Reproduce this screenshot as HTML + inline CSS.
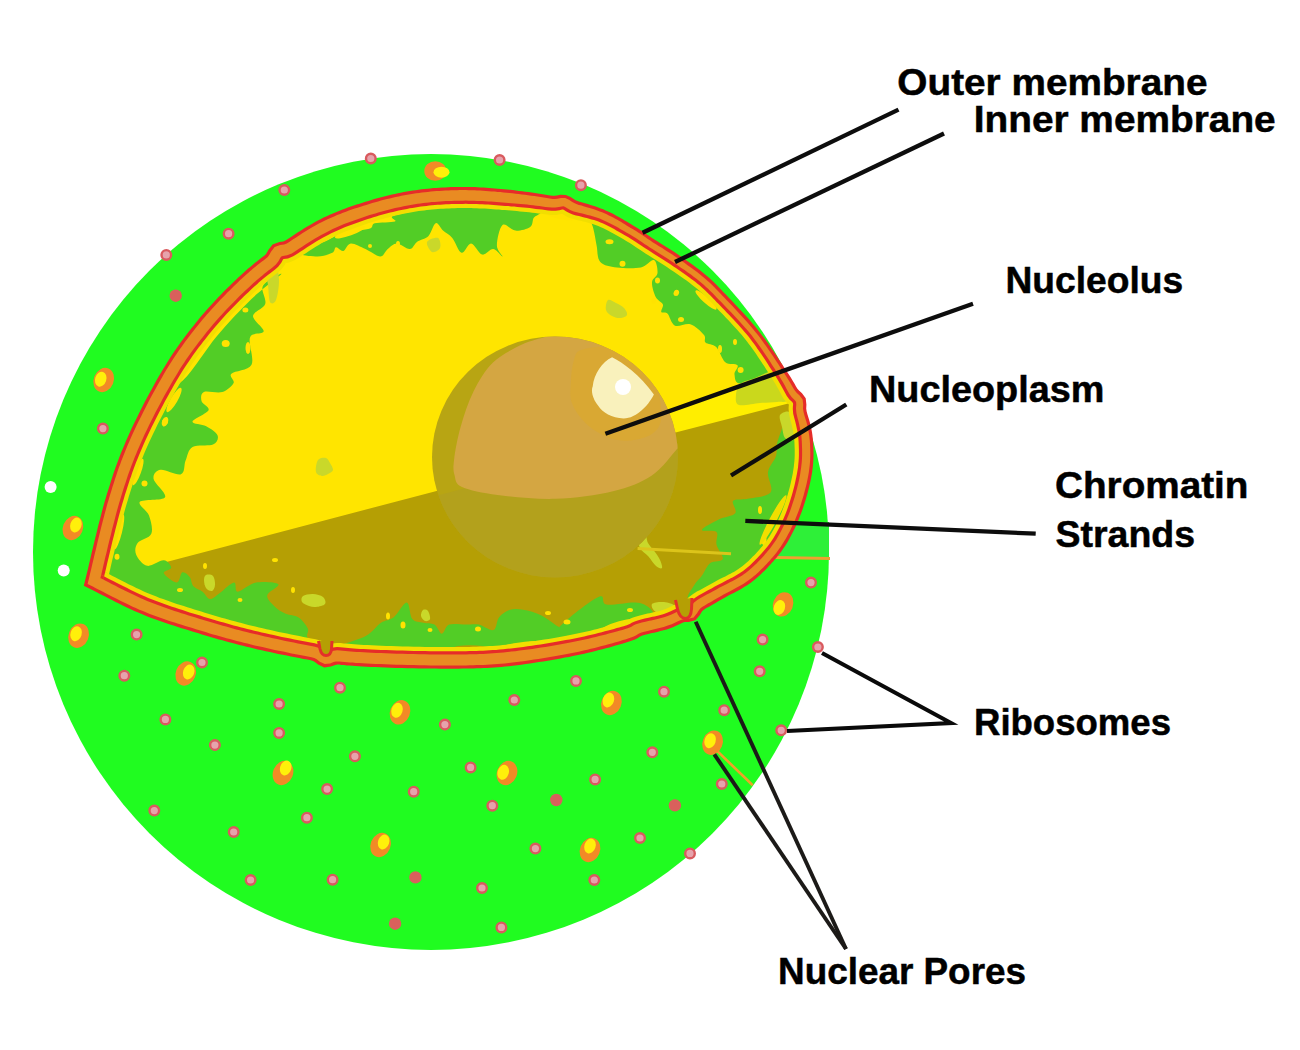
<!DOCTYPE html>
<html><head><meta charset="utf-8"><style>
html,body{margin:0;padding:0;background:#fff;}
svg{display:block;}
text{font-family:"Liberation Sans",sans-serif;font-weight:bold;font-size:37.5px;fill:#000;stroke:#000;stroke-width:0.5px;}
</style></head><body>
<svg width="1300" height="1050" viewBox="0 0 1300 1050">
<defs>
<clipPath id="below"><path d="M80,589.3 L820,395 L820,700 L80,700 Z"/></clipPath>
<clipPath id="sph"><ellipse cx="555" cy="457" rx="123" ry="120.5"/></clipPath>
<clipPath id="nuc"><path d="M94.0,581.0 94.7,578.2 95.5,574.7 96.5,570.7 97.5,566.2 98.7,561.3 99.9,556.0 101.3,550.5 102.6,544.8 104.0,539.0 105.5,533.1 106.9,527.3 108.4,521.5 109.8,516.0 111.3,510.6 112.7,505.6 114.0,501.0 115.3,496.7 116.6,492.5 117.8,488.5 119.1,484.6 120.3,480.7 121.5,477.0 122.8,473.3 124.1,469.7 125.4,466.1 126.7,462.5 128.1,458.9 129.5,455.2 131.0,451.5 132.6,447.8 134.3,443.9 136.0,440.0 137.8,435.9 139.8,431.8 141.8,427.5 143.9,423.2 146.0,418.8 148.2,414.4 150.5,410.0 152.8,405.6 155.1,401.3 157.4,396.9 159.7,392.7 162.1,388.5 164.3,384.4 166.6,380.5 168.8,376.6 171.0,373.0 173.1,369.5 175.2,366.1 177.3,362.8 179.4,359.6 181.5,356.5 183.6,353.5 185.7,350.6 187.7,347.7 189.8,344.9 191.9,342.1 193.9,339.4 196.0,336.6 198.1,334.0 200.2,331.3 202.4,328.7 204.5,326.0 206.7,323.4 208.9,320.7 211.1,318.2 213.3,315.6 215.6,313.1 217.8,310.6 220.1,308.2 222.3,305.8 224.6,303.4 226.9,301.0 229.1,298.8 231.3,296.5 233.5,294.3 235.7,292.2 237.9,290.1 240.0,288.0 242.1,286.0 244.0,284.1 246.0,282.3 247.8,280.6 249.7,278.9 251.5,277.3 253.3,275.7 255.1,274.2 257.0,272.6 258.9,271.0 260.8,269.5 262.9,267.9 265.0,266.2 267.2,264.6 269.5,262.8 271.8,260.7 273.9,258.1 275.6,254.7 277.9,251.8 281.5,250.5 285.6,249.9 289.3,248.4 292.6,246.4 295.8,244.2 299.1,242.0 302.4,239.9 305.7,237.8 308.9,235.8 312.2,233.8 315.3,231.9 318.5,230.2 321.5,228.5 324.5,226.9 327.5,225.5 330.4,224.1 333.3,222.7 336.3,221.4 339.2,220.2 342.1,219.0 345.0,217.9 347.9,216.8 350.7,215.8 353.6,214.8 356.5,213.8 359.4,212.8 362.2,211.9 365.1,210.9 368.0,210.0 370.9,209.1 373.8,208.2 376.7,207.4 379.5,206.5 382.4,205.8 385.3,205.0 388.2,204.3 391.0,203.6 393.9,202.9 396.8,202.3 399.6,201.6 402.5,201.1 405.4,200.5 408.3,200.0 411.1,199.5 414.0,199.0 416.9,198.6 419.8,198.2 422.6,197.8 425.5,197.4 428.4,197.1 431.2,196.8 434.1,196.6 437.0,196.4 439.9,196.2 442.8,196.0 445.6,195.8 448.5,195.7 451.4,195.6 454.2,195.5 457.1,195.4 460.0,195.4 462.9,195.4 465.7,195.4 468.6,195.4 471.4,195.5 474.3,195.5 477.1,195.7 480.0,195.8 482.8,195.9 485.7,196.1 488.5,196.3 491.4,196.5 494.3,196.7 497.2,196.9 500.1,197.2 503.0,197.4 506.0,197.7 509.0,198.0 512.0,198.3 515.1,198.6 518.2,198.9 521.3,199.2 524.4,199.6 527.5,199.9 530.7,200.3 533.8,200.7 536.9,201.1 540.0,201.6 543.1,202.0 546.1,202.5 549.1,202.9 552.1,203.3 555.1,203.3 558.2,202.8 561.3,202.2 564.3,202.2 567.1,203.3 569.8,205.1 572.4,206.7 575.1,207.8 577.9,208.6 580.6,209.3 583.3,210.0 586.0,210.7 588.6,211.4 591.2,212.2 593.7,213.0 596.1,213.8 598.5,214.6 600.8,215.5 603.1,216.4 605.3,217.4 607.5,218.4 609.6,219.4 611.7,220.5 613.7,221.6 615.7,222.6 617.7,223.7 619.6,224.8 621.4,225.9 623.2,227.0 625.0,228.1 628.4,230.1 631.6,231.9 634.4,233.6 636.9,235.2 639.3,236.8 641.5,238.3 643.8,239.8 646.1,241.4 648.6,243.1 651.4,244.9 654.4,246.8 657.4,248.7 660.6,250.7 663.8,252.7 667.0,254.8 670.2,256.8 673.4,258.9 676.6,261.1 679.8,263.3 683.0,265.5 686.3,267.7 689.5,270.0 692.6,272.3 695.7,274.6 698.6,276.9 701.3,279.1 703.7,281.1 705.9,283.0 707.9,284.9 710.0,286.8 712.2,289.0 714.6,291.4 717.4,294.4 719.0,296.0 720.7,297.8 722.6,299.7 724.5,301.7 726.6,303.9 728.8,306.1 731.0,308.4 733.2,310.8 735.5,313.2 737.8,315.7 740.1,318.1 742.4,320.7 744.6,323.2 746.8,325.7 749.0,328.1 751.0,330.6 753.0,333.0 754.9,335.4 756.8,337.9 758.7,340.4 760.5,342.9 762.4,345.5 764.2,348.1 766.0,350.7 767.8,353.2 769.5,355.8 771.1,358.3 772.8,360.8 774.3,363.2 775.8,365.5 777.3,367.8 778.7,369.9 780.0,372.0 781.2,373.9 782.4,375.8 783.5,377.5 785.5,380.8 787.3,383.8 788.9,386.7 790.5,389.5 792.1,392.3 794.2,395.0 797.1,397.6 799.3,400.8 799.8,404.6 799.6,406.7 799.5,408.7 799.9,412.4 800.8,415.9 801.8,419.3 802.6,422.5 803.4,425.5 804.0,428.3 804.5,430.9 804.9,433.4 805.3,435.9 805.6,438.3 805.8,440.9 805.9,443.6 806.1,446.4 806.1,449.4 806.2,452.3 806.2,455.4 806.1,458.5 805.9,461.7 805.6,464.9 805.2,468.3 804.7,471.7 804.1,475.3 803.4,479.1 802.6,482.9 801.7,486.7 800.7,490.6 799.6,494.4 798.6,498.2 797.4,501.8 796.2,505.4 795.0,509.0 793.7,512.6 792.3,516.1 790.9,519.6 789.4,523.0 787.8,526.4 786.2,529.6 784.6,532.7 782.9,535.8 781.2,538.8 779.4,541.7 777.5,544.6 775.4,547.6 773.2,550.5 770.8,553.5 769.5,555.1 768.1,556.6 766.7,558.2 765.3,559.8 763.8,561.4 762.3,562.9 760.8,564.5 759.3,566.1 757.7,567.6 756.1,569.1 754.5,570.6 752.9,572.0 751.3,573.4 749.6,574.7 748.0,576.0 746.4,577.2 744.7,578.4 743.0,579.5 741.2,580.6 739.4,581.7 737.7,582.7 735.9,583.7 734.1,584.6 732.3,585.6 730.5,586.5 728.7,587.4 725.1,589.2 721.7,591.1 718.4,592.9 715.1,594.7 712.0,596.5 708.9,598.3 705.8,600.0 702.7,601.7 699.7,603.5 696.9,605.7 694.6,608.9 693.6,610.7 691.2,613.5 687.6,614.4 685.5,614.4 683.5,614.5 679.9,615.5 676.6,617.0 673.4,618.5 670.0,620.0 666.4,621.3 664.5,621.9 662.5,622.5 660.5,623.0 658.4,623.5 656.4,624.0 654.3,624.5 652.3,625.0 650.3,625.4 646.5,626.3 643.0,627.1 640.0,628.0 637.7,628.8 635.7,629.8 633.8,631.0 631.7,632.1 629.4,632.9 626.0,634.0 623.9,634.6 621.5,635.3 619.0,636.0 616.2,636.8 613.3,637.6 610.3,638.5 607.1,639.3 603.8,640.2 600.4,641.1 596.9,642.0 593.4,642.9 589.7,643.8 586.1,644.6 582.4,645.4 578.7,646.2 575.0,647.0 571.2,647.7 567.3,648.5 563.3,649.2 559.2,650.0 554.9,650.7 550.7,651.5 546.3,652.2 541.9,652.9 537.6,653.6 533.2,654.3 528.8,654.9 524.5,655.5 520.2,656.1 516.1,656.6 512.0,657.1 508.0,657.5 504.2,657.9 500.5,658.2 496.9,658.5 493.5,658.8 490.0,659.0 486.7,659.2 483.3,659.4 480.0,659.5 476.6,659.6 473.2,659.7 469.7,659.8 466.0,659.9 462.3,659.9 458.4,660.0 454.3,660.0 450.0,660.0 445.4,660.0 440.6,660.0 435.5,659.9 430.2,659.9 424.7,659.8 419.1,659.7 413.5,659.6 407.8,659.5 402.2,659.3 396.6,659.2 391.1,659.0 385.8,658.8 380.7,658.6 375.8,658.4 371.2,658.2 367.0,658.0 363.1,657.8 359.5,657.6 356.2,657.4 353.1,657.1 350.2,656.9 347.5,656.7 344.9,656.5 342.3,656.2 339.8,656.0 337.3,655.9 334.6,656.1 331.8,656.9 328.8,658.1 325.7,658.5 322.8,657.1 319.7,654.6 316.4,652.8 312.7,651.8 308.9,651.1 305.0,650.4 301.0,649.6 296.8,648.8 292.7,648.0 288.5,647.1 284.3,646.3 280.1,645.4 275.9,644.5 271.8,643.6 267.7,642.7 263.7,641.8 259.8,640.9 256.0,640.0 252.3,639.1 248.7,638.2 245.1,637.4 241.6,636.5 238.2,635.6 234.8,634.7 231.4,633.8 228.0,632.9 224.6,631.9 221.3,631.0 218.0,630.1 214.6,629.1 211.2,628.1 207.9,627.1 204.4,626.1 201.0,625.0 197.5,623.9 194.0,622.9 190.5,621.8 187.0,620.7 183.4,619.6 179.9,618.4 176.3,617.3 172.8,616.1 169.2,614.9 165.7,613.7 162.2,612.5 158.7,611.3 155.2,610.0 151.8,608.7 148.4,607.4 145.0,606.0 141.6,604.6 138.0,603.0 134.4,601.3 130.7,599.6 127.0,597.8 123.3,596.0 119.6,594.1 116.0,592.3 112.5,590.5 109.2,588.8 106.0,587.2 103.0,585.6 100.3,584.2 97.9,583.0 95.8,581.9 94.0,581.0 Z"/></clipPath>
</defs>
<circle cx="431" cy="552" r="398" fill="#20fc20"/>
<path d="M760,522 L829,522 L829,557 L760,557 Z" fill="#2ef038"/>
<line x1="745" y1="557" x2="830" y2="558.5" stroke="#f0a030" stroke-width="3"/>
<path d="M94.0,581.0 94.7,578.2 95.5,574.7 96.5,570.7 97.5,566.2 98.7,561.3 99.9,556.0 101.3,550.5 102.6,544.8 104.0,539.0 105.5,533.1 106.9,527.3 108.4,521.5 109.8,516.0 111.3,510.6 112.7,505.6 114.0,501.0 115.3,496.7 116.6,492.5 117.8,488.5 119.1,484.6 120.3,480.7 121.5,477.0 122.8,473.3 124.1,469.7 125.4,466.1 126.7,462.5 128.1,458.9 129.5,455.2 131.0,451.5 132.6,447.8 134.3,443.9 136.0,440.0 137.8,435.9 139.8,431.8 141.8,427.5 143.9,423.2 146.0,418.8 148.2,414.4 150.5,410.0 152.8,405.6 155.1,401.3 157.4,396.9 159.7,392.7 162.1,388.5 164.3,384.4 166.6,380.5 168.8,376.6 171.0,373.0 173.1,369.5 175.2,366.1 177.3,362.8 179.4,359.6 181.5,356.5 183.6,353.5 185.7,350.6 187.7,347.7 189.8,344.9 191.9,342.1 193.9,339.4 196.0,336.6 198.1,334.0 200.2,331.3 202.4,328.7 204.5,326.0 206.7,323.4 208.9,320.7 211.1,318.2 213.3,315.6 215.6,313.1 217.8,310.6 220.1,308.2 222.3,305.8 224.6,303.4 226.9,301.0 229.1,298.8 231.3,296.5 233.5,294.3 235.7,292.2 237.9,290.1 240.0,288.0 242.1,286.0 244.0,284.1 246.0,282.3 247.8,280.6 249.7,278.9 251.5,277.3 253.3,275.7 255.1,274.2 257.0,272.6 258.9,271.0 260.8,269.5 262.9,267.9 265.0,266.2 267.2,264.6 269.5,262.8 271.8,260.7 273.9,258.1 275.6,254.7 277.9,251.8 281.5,250.5 285.6,249.9 289.3,248.4 292.6,246.4 295.8,244.2 299.1,242.0 302.4,239.9 305.7,237.8 308.9,235.8 312.2,233.8 315.3,231.9 318.5,230.2 321.5,228.5 324.5,226.9 327.5,225.5 330.4,224.1 333.3,222.7 336.3,221.4 339.2,220.2 342.1,219.0 345.0,217.9 347.9,216.8 350.7,215.8 353.6,214.8 356.5,213.8 359.4,212.8 362.2,211.9 365.1,210.9 368.0,210.0 370.9,209.1 373.8,208.2 376.7,207.4 379.5,206.5 382.4,205.8 385.3,205.0 388.2,204.3 391.0,203.6 393.9,202.9 396.8,202.3 399.6,201.6 402.5,201.1 405.4,200.5 408.3,200.0 411.1,199.5 414.0,199.0 416.9,198.6 419.8,198.2 422.6,197.8 425.5,197.4 428.4,197.1 431.2,196.8 434.1,196.6 437.0,196.4 439.9,196.2 442.8,196.0 445.6,195.8 448.5,195.7 451.4,195.6 454.2,195.5 457.1,195.4 460.0,195.4 462.9,195.4 465.7,195.4 468.6,195.4 471.4,195.5 474.3,195.5 477.1,195.7 480.0,195.8 482.8,195.9 485.7,196.1 488.5,196.3 491.4,196.5 494.3,196.7 497.2,196.9 500.1,197.2 503.0,197.4 506.0,197.7 509.0,198.0 512.0,198.3 515.1,198.6 518.2,198.9 521.3,199.2 524.4,199.6 527.5,199.9 530.7,200.3 533.8,200.7 536.9,201.1 540.0,201.6 543.1,202.0 546.1,202.5 549.1,202.9 552.1,203.3 555.1,203.3 558.2,202.8 561.3,202.2 564.3,202.2 567.1,203.3 569.8,205.1 572.4,206.7 575.1,207.8 577.9,208.6 580.6,209.3 583.3,210.0 586.0,210.7 588.6,211.4 591.2,212.2 593.7,213.0 596.1,213.8 598.5,214.6 600.8,215.5 603.1,216.4 605.3,217.4 607.5,218.4 609.6,219.4 611.7,220.5 613.7,221.6 615.7,222.6 617.7,223.7 619.6,224.8 621.4,225.9 623.2,227.0 625.0,228.1 628.4,230.1 631.6,231.9 634.4,233.6 636.9,235.2 639.3,236.8 641.5,238.3 643.8,239.8 646.1,241.4 648.6,243.1 651.4,244.9 654.4,246.8 657.4,248.7 660.6,250.7 663.8,252.7 667.0,254.8 670.2,256.8 673.4,258.9 676.6,261.1 679.8,263.3 683.0,265.5 686.3,267.7 689.5,270.0 692.6,272.3 695.7,274.6 698.6,276.9 701.3,279.1 703.7,281.1 705.9,283.0 707.9,284.9 710.0,286.8 712.2,289.0 714.6,291.4 717.4,294.4 719.0,296.0 720.7,297.8 722.6,299.7 724.5,301.7 726.6,303.9 728.8,306.1 731.0,308.4 733.2,310.8 735.5,313.2 737.8,315.7 740.1,318.1 742.4,320.7 744.6,323.2 746.8,325.7 749.0,328.1 751.0,330.6 753.0,333.0 754.9,335.4 756.8,337.9 758.7,340.4 760.5,342.9 762.4,345.5 764.2,348.1 766.0,350.7 767.8,353.2 769.5,355.8 771.1,358.3 772.8,360.8 774.3,363.2 775.8,365.5 777.3,367.8 778.7,369.9 780.0,372.0 781.2,373.9 782.4,375.8 783.5,377.5 785.5,380.8 787.3,383.8 788.9,386.7 790.5,389.5 792.1,392.3 794.2,395.0 797.1,397.6 799.3,400.8 799.8,404.6 799.6,406.7 799.5,408.7 799.9,412.4 800.8,415.9 801.8,419.3 802.6,422.5 803.4,425.5 804.0,428.3 804.5,430.9 804.9,433.4 805.3,435.9 805.6,438.3 805.8,440.9 805.9,443.6 806.1,446.4 806.1,449.4 806.2,452.3 806.2,455.4 806.1,458.5 805.9,461.7 805.6,464.9 805.2,468.3 804.7,471.7 804.1,475.3 803.4,479.1 802.6,482.9 801.7,486.7 800.7,490.6 799.6,494.4 798.6,498.2 797.4,501.8 796.2,505.4 795.0,509.0 793.7,512.6 792.3,516.1 790.9,519.6 789.4,523.0 787.8,526.4 786.2,529.6 784.6,532.7 782.9,535.8 781.2,538.8 779.4,541.7 777.5,544.6 775.4,547.6 773.2,550.5 770.8,553.5 769.5,555.1 768.1,556.6 766.7,558.2 765.3,559.8 763.8,561.4 762.3,562.9 760.8,564.5 759.3,566.1 757.7,567.6 756.1,569.1 754.5,570.6 752.9,572.0 751.3,573.4 749.6,574.7 748.0,576.0 746.4,577.2 744.7,578.4 743.0,579.5 741.2,580.6 739.4,581.7 737.7,582.7 735.9,583.7 734.1,584.6 732.3,585.6 730.5,586.5 728.7,587.4 725.1,589.2 721.7,591.1 718.4,592.9 715.1,594.7 712.0,596.5 708.9,598.3 705.8,600.0 702.7,601.7 699.7,603.5 696.9,605.7 694.6,608.9 693.6,610.7 691.2,613.5 687.6,614.4 685.5,614.4 683.5,614.5 679.9,615.5 676.6,617.0 673.4,618.5 670.0,620.0 666.4,621.3 664.5,621.9 662.5,622.5 660.5,623.0 658.4,623.5 656.4,624.0 654.3,624.5 652.3,625.0 650.3,625.4 646.5,626.3 643.0,627.1 640.0,628.0 637.7,628.8 635.7,629.8 633.8,631.0 631.7,632.1 629.4,632.9 626.0,634.0 623.9,634.6 621.5,635.3 619.0,636.0 616.2,636.8 613.3,637.6 610.3,638.5 607.1,639.3 603.8,640.2 600.4,641.1 596.9,642.0 593.4,642.9 589.7,643.8 586.1,644.6 582.4,645.4 578.7,646.2 575.0,647.0 571.2,647.7 567.3,648.5 563.3,649.2 559.2,650.0 554.9,650.7 550.7,651.5 546.3,652.2 541.9,652.9 537.6,653.6 533.2,654.3 528.8,654.9 524.5,655.5 520.2,656.1 516.1,656.6 512.0,657.1 508.0,657.5 504.2,657.9 500.5,658.2 496.9,658.5 493.5,658.8 490.0,659.0 486.7,659.2 483.3,659.4 480.0,659.5 476.6,659.6 473.2,659.7 469.7,659.8 466.0,659.9 462.3,659.9 458.4,660.0 454.3,660.0 450.0,660.0 445.4,660.0 440.6,660.0 435.5,659.9 430.2,659.9 424.7,659.8 419.1,659.7 413.5,659.6 407.8,659.5 402.2,659.3 396.6,659.2 391.1,659.0 385.8,658.8 380.7,658.6 375.8,658.4 371.2,658.2 367.0,658.0 363.1,657.8 359.5,657.6 356.2,657.4 353.1,657.1 350.2,656.9 347.5,656.7 344.9,656.5 342.3,656.2 339.8,656.0 337.3,655.9 334.6,656.1 331.8,656.9 328.8,658.1 325.7,658.5 322.8,657.1 319.7,654.6 316.4,652.8 312.7,651.8 308.9,651.1 305.0,650.4 301.0,649.6 296.8,648.8 292.7,648.0 288.5,647.1 284.3,646.3 280.1,645.4 275.9,644.5 271.8,643.6 267.7,642.7 263.7,641.8 259.8,640.9 256.0,640.0 252.3,639.1 248.7,638.2 245.1,637.4 241.6,636.5 238.2,635.6 234.8,634.7 231.4,633.8 228.0,632.9 224.6,631.9 221.3,631.0 218.0,630.1 214.6,629.1 211.2,628.1 207.9,627.1 204.4,626.1 201.0,625.0 197.5,623.9 194.0,622.9 190.5,621.8 187.0,620.7 183.4,619.6 179.9,618.4 176.3,617.3 172.8,616.1 169.2,614.9 165.7,613.7 162.2,612.5 158.7,611.3 155.2,610.0 151.8,608.7 148.4,607.4 145.0,606.0 141.6,604.6 138.0,603.0 134.4,601.3 130.7,599.6 127.0,597.8 123.3,596.0 119.6,594.1 116.0,592.3 112.5,590.5 109.2,588.8 106.0,587.2 103.0,585.6 100.3,584.2 97.9,583.0 95.8,581.9 94.0,581.0 Z" fill="#ffe500"/>
<g clip-path="url(#nuc)">
<path d="M794.0,397.0 C795.5,401.5 801.0,416.0 803.0,424.0 C805.0,432.0 805.7,437.3 806.0,445.0 C806.3,452.7 806.3,460.8 805.0,470.0 C803.7,479.2 801.0,490.3 798.0,500.0 C795.0,509.7 791.3,519.3 787.0,528.0 C782.7,536.7 778.5,544.0 772.0,552.0 C765.5,560.0 756.7,569.3 748.0,576.0 C739.3,582.7 728.8,587.0 720.0,592.0 C711.2,597.0 703.3,601.3 695.0,606.0 C686.7,610.7 679.2,616.3 670.0,620.0 C660.8,623.7 647.3,625.7 640.0,628.0 C632.7,630.3 636.8,630.8 626.0,634.0 C615.2,637.2 594.7,643.1 575.0,647.0 C555.3,650.9 528.8,655.3 508.0,657.5 C487.2,659.7 473.5,659.9 450.0,660.0 C426.5,660.1 388.7,659.2 367.0,658.0 C345.3,656.8 338.5,656.0 320.0,653.0 C301.5,650.0 275.8,644.7 256.0,640.0 C236.2,635.3 219.5,630.7 201.0,625.0 C182.5,619.3 162.8,613.3 145.0,606.0 C127.2,598.7 102.5,585.2 94.0,581.0 Z" fill="#b59f04"/>
<path d="M660,414.5 L795,366.8 L795,401.7 L660,436.4 Z" fill="#ffee00"/>
<path d="M263.0,285.7 C260.3,290.7 266.9,298.9 265.2,304.0 C263.5,309.1 253.2,311.4 253.0,316.0 C252.8,320.6 264.2,327.7 263.7,331.3 C263.2,334.9 252.0,331.8 250.0,337.4 C248.0,343.0 254.6,358.8 251.5,364.8 C248.4,370.9 234.4,370.7 231.4,373.7 C228.4,376.7 235.1,379.8 233.6,382.9 C232.1,385.9 227.1,390.5 222.2,392.0 C217.2,393.5 207.3,390.5 203.9,392.0 C200.5,393.5 200.8,398.1 201.6,401.2 C202.4,404.2 210.0,406.9 208.5,410.3 C207.0,413.7 192.9,419.0 192.5,421.7 C192.1,424.4 202.0,424.0 206.2,426.3 C210.4,428.6 216.5,432.4 217.6,435.5 C218.7,438.6 217.2,442.7 213.0,444.6 C208.8,446.5 197.1,444.2 192.5,446.9 C187.9,449.6 187.5,456.0 185.6,460.6 C183.7,465.2 185.2,472.8 181.0,474.3 C176.8,475.8 165.1,469.0 160.5,469.8 C155.9,470.6 152.8,474.3 153.6,478.9 C154.3,483.5 167.3,493.4 165.0,497.2 C162.7,501.0 142.6,498.8 139.9,501.8 C137.2,504.9 147.1,510.2 149.0,515.5 C150.9,520.8 153.2,529.2 151.3,533.8 C149.4,538.4 140.1,539.5 137.6,543.0 C135.1,546.5 134.6,551.0 136.2,554.8 C137.8,558.6 142.6,564.9 147.2,565.8 C151.8,566.7 159.8,560.0 163.8,560.3 C167.8,560.6 171.2,565.6 171.2,567.7 C171.2,569.9 162.9,570.7 163.8,573.2 C164.7,575.7 173.7,582.6 176.8,582.5 C179.9,582.4 180.2,573.2 182.3,572.3 C184.5,571.4 187.8,574.6 189.7,576.9 C191.5,579.2 191.2,583.7 193.4,586.2 C195.6,588.7 199.8,589.6 202.6,591.7 C205.4,593.9 207.2,598.8 210.0,599.1 C212.8,599.4 215.2,596.3 219.2,593.5 C223.2,590.7 230.9,582.8 234.0,582.5 C237.1,582.2 234.0,591.7 237.7,591.7 C241.4,591.7 249.3,583.7 256.1,582.5 C262.9,581.3 276.5,582.1 278.3,584.3 C280.1,586.4 267.8,591.7 267.2,595.4 C266.6,599.1 271.5,603.4 274.6,606.5 C277.7,609.6 281.7,612.0 285.7,613.8 C289.7,615.6 294.9,615.0 298.6,617.5 C302.3,620.0 306.3,625.2 307.8,628.6 C309.3,632.0 305.4,635.1 307.8,637.8 C310.2,640.5 319.1,640.5 322.0,645.0 C324.9,649.5 336.0,664.2 325.0,665.0 C314.0,665.8 276.7,655.0 256.0,650.0 C235.3,645.0 219.5,640.7 201.0,635.0 C182.5,629.3 164.5,623.5 145.0,616.0 C125.5,608.5 90.8,609.5 84.0,590.0 C77.2,570.5 97.0,524.7 104.0,499.0 C111.0,473.3 118.3,452.5 126.0,436.0 C133.7,419.5 140.5,409.2 150.0,400.0 C159.5,390.8 171.6,391.3 182.8,380.6 C194.0,369.9 205.6,349.5 217.0,336.0 C228.4,322.5 240.3,309.8 251.0,299.5 C261.7,289.2 279.4,276.3 281.4,274.0 C283.4,271.7 265.7,280.7 263.0,285.7 Z" fill="#52cd26"/>
<path d="M300.9,252.8 C299.0,255.6 312.3,256.5 317.5,256.5 C322.7,256.5 329.2,254.4 332.3,252.8 C335.4,251.2 334.1,247.5 336.0,247.2 C337.9,246.9 340.9,251.5 343.4,250.9 C345.9,250.3 347.1,243.8 350.8,243.5 C354.5,243.2 360.6,246.9 365.5,249.1 C370.4,251.3 376.6,256.5 380.3,256.5 C384.0,256.5 384.9,251.3 387.7,249.1 C390.5,246.9 393.2,243.5 396.9,243.5 C400.6,243.5 406.4,249.4 409.8,249.1 C413.2,248.8 414.1,243.8 417.2,241.7 C420.3,239.5 425.2,239.3 428.3,236.2 C431.4,233.1 433.2,224.1 435.7,223.2 C438.1,222.3 440.2,228.1 443.0,230.6 C445.8,233.1 449.2,234.3 452.3,238.0 C455.4,241.7 458.4,251.9 461.5,252.8 C464.6,253.7 467.7,243.2 471.1,243.5 C474.6,243.8 478.5,253.7 482.2,254.6 C485.9,255.5 489.8,248.8 493.2,249.1 C496.6,249.4 501.9,257.1 502.5,256.5 C503.1,255.9 496.9,250.6 496.9,245.4 C496.9,240.2 499.4,227.6 502.5,225.1 C505.6,222.6 510.8,230.3 515.4,230.6 C520.0,230.9 527.1,229.1 530.2,226.9 C533.3,224.8 532.0,220.1 533.8,217.7 C535.6,215.2 539.3,215.1 541.2,212.2 C543.1,209.2 551.9,202.9 545.0,200.0 C538.1,197.1 514.2,195.8 500.0,195.0 C485.8,194.2 472.6,192.8 460.0,195.0 C447.4,197.2 435.7,205.0 424.6,208.5 C413.5,212.0 398.1,213.7 393.2,215.8 C388.3,218.0 398.1,220.2 395.0,221.4 C391.9,222.6 379.1,222.0 374.8,223.2 C370.5,224.4 374.4,227.2 369.2,228.8 C364.0,230.4 350.2,230.7 343.4,232.5 C336.6,234.3 335.7,236.4 328.6,239.8 C321.5,243.2 302.8,250.0 300.9,252.8 Z" fill="#52cd26"/>
<path d="M592.9,226.9 C594.8,233.6 595.4,239.6 596.6,245.4 C597.8,251.2 596.9,258.3 600.3,262.0 C603.7,265.7 610.1,266.6 616.9,267.5 C623.7,268.4 634.8,268.7 640.9,267.5 C647.0,266.3 651.0,259.2 653.8,260.1 C656.6,261.0 657.8,269.4 657.5,273.1 C657.2,276.8 652.3,278.3 652.0,282.3 C651.7,286.3 653.9,293.3 655.7,297.0 C657.5,300.7 662.0,301.9 662.9,304.4 C663.8,306.9 660.5,310.5 661.3,312.0 C662.0,313.5 665.1,311.2 667.4,313.5 C669.7,315.8 671.2,323.9 675.0,325.7 C678.8,327.5 685.5,322.7 690.3,324.2 C695.1,325.7 701.5,331.8 704.0,334.9 C706.5,337.9 703.5,340.5 705.5,342.5 C707.5,344.5 712.9,343.7 716.2,347.0 C719.5,350.3 721.8,359.2 725.3,362.3 C728.8,365.4 736.0,363.3 737.5,365.3 C739.0,367.3 734.0,371.4 734.5,374.5 C735.0,377.6 734.7,384.0 740.6,383.6 C746.5,383.2 761.8,375.1 770.0,372.0 C778.2,368.9 791.3,372.7 790.0,365.0 C788.7,357.3 772.5,338.7 762.0,326.0 C751.5,313.3 736.7,298.3 727.0,289.0 C717.3,279.7 712.2,276.2 704.0,270.0 C695.8,263.8 686.3,257.7 678.0,252.0 C669.7,246.3 661.7,241.0 654.0,236.0 C646.3,231.0 641.0,227.0 632.0,222.0 C623.0,217.0 607.8,208.8 600.0,206.0 C592.2,203.2 586.2,201.5 585.0,205.0 C583.8,208.5 591.0,220.2 592.9,226.9 Z" fill="#52cd26"/>
<path d="M740.6,383.6 C737.4,386.4 736.3,391.4 736.0,395.0 C735.7,398.6 735.0,403.7 739.0,405.0 C743.0,406.3 753.7,403.5 760.0,403.0 C766.3,402.5 772.0,402.5 777.0,402.0 C782.0,401.5 787.5,402.8 790.0,400.0 C792.5,397.2 793.7,390.3 792.0,385.0 C790.3,379.7 783.8,370.3 780.0,368.0 C776.2,365.7 773.7,369.7 769.5,371.4 C765.3,373.1 759.8,376.0 755.0,378.0 C750.2,380.0 743.8,380.8 740.6,383.6 Z" fill="#cad81c"/>
<path d="M792.0,412.0 C786.2,415.3 780.7,432.7 778.0,440.0 C775.3,447.3 777.7,450.7 776.0,456.0 C774.3,461.3 768.9,465.9 768.0,472.0 C767.1,478.1 773.9,488.1 770.5,492.5 C767.1,496.9 753.9,497.3 747.7,498.7 C741.5,500.1 735.2,498.4 733.1,500.8 C731.0,503.2 737.6,510.1 735.2,513.2 C732.8,516.3 724.1,516.7 718.6,519.5 C713.1,522.3 702.4,527.7 702.0,529.8 C701.6,531.9 714.1,529.5 716.5,531.9 C718.9,534.3 715.5,539.9 716.5,544.4 C717.5,548.9 723.8,555.8 722.8,558.9 C721.8,562.0 713.8,560.3 710.3,563.1 C706.8,565.9 704.8,571.7 702.0,575.5 C699.2,579.3 696.0,581.8 693.7,585.9 C691.4,590.0 686.1,595.6 688.0,600.0 C689.9,604.4 698.8,612.0 705.0,612.0 C711.2,612.0 716.7,604.7 725.0,600.0 C733.3,595.3 745.8,591.0 755.0,584.0 C764.2,577.0 773.0,566.7 780.0,558.0 C787.0,549.3 792.2,541.3 797.0,532.0 C801.8,522.7 806.0,512.3 809.0,502.0 C812.0,491.7 813.8,479.5 815.0,470.0 C816.2,460.5 816.3,453.3 816.0,445.0 C815.7,436.7 817.0,425.5 813.0,420.0 C809.0,414.5 797.8,408.7 792.0,412.0 Z" fill="#52cd26"/>
<path d="M330.0,648.0 C330.9,644.8 334.3,646.9 340.3,644.9 C346.3,642.9 359.4,639.4 366.2,635.7 C373.0,632.0 376.4,625.9 381.0,622.8 C385.6,619.7 389.5,620.6 393.8,617.2 C398.1,613.8 403.7,602.2 406.8,602.5 C409.9,602.8 409.5,615.7 412.3,619.1 C415.1,622.5 419.7,621.9 423.4,622.8 C427.1,623.7 431.4,622.8 434.5,624.6 C437.6,626.4 439.4,633.8 441.8,633.8 C444.2,633.8 445.2,626.1 449.2,624.6 C453.2,623.1 460.9,624.6 465.8,624.6 C470.7,624.6 474.2,623.7 478.8,624.6 C483.4,625.5 490.1,631.3 493.5,630.1 C496.9,628.9 496.3,620.6 499.1,617.2 C501.9,613.8 506.1,611.0 510.1,609.8 C514.1,608.6 517.9,608.9 523.1,609.8 C528.3,610.7 535.7,612.6 541.5,615.4 C547.3,618.2 554.9,624.8 558.1,626.5 C561.3,628.2 557.9,627.7 560.8,625.4 C563.7,623.1 568.7,617.8 575.3,612.9 C581.9,608.0 595.0,597.7 600.2,596.3 C605.4,594.9 600.6,603.6 606.5,604.6 C612.4,605.6 628.6,602.1 635.5,602.5 C642.4,602.9 644.5,604.6 648.0,606.7 C651.5,608.8 653.0,613.1 656.3,615.0 C659.6,616.9 665.4,615.5 668.0,618.0 C670.6,620.5 676.7,626.7 672.0,630.0 C667.3,633.3 656.2,633.5 640.0,638.0 C623.8,642.5 597.0,652.2 575.0,657.0 C553.0,661.8 528.8,664.8 508.0,667.0 C487.2,669.2 473.5,670.0 450.0,670.0 C426.5,670.0 386.2,668.0 367.0,667.0 C347.8,666.0 341.2,667.2 335.0,664.0 C328.8,660.8 329.1,651.2 330.0,648.0 Z" fill="#52cd26"/>
<ellipse cx="245.4" cy="310.0" rx="3.0" ry="2.5" fill="#ffe200"/>
<ellipse cx="225.7" cy="343.5" rx="4.0" ry="3.5" fill="#ffe200"/>
<ellipse cx="248.0" cy="348.0" rx="2.5" ry="6.0" fill="#ffe200"/>
<ellipse cx="165.0" cy="421.7" rx="3.0" ry="2.5" fill="#ffe200"/>
<ellipse cx="144.5" cy="483.5" rx="3.0" ry="3.0" fill="#ffe200"/>
<ellipse cx="117.0" cy="556.7" rx="2.5" ry="3.0" fill="#ffe200"/>
<ellipse cx="676.6" cy="292.2" rx="2.5" ry="2.5" fill="#ffe200"/>
<ellipse cx="681.0" cy="319.6" rx="3.0" ry="2.5" fill="#ffe200"/>
<ellipse cx="740.6" cy="370.0" rx="3.0" ry="3.0" fill="#ffe200"/>
<ellipse cx="609.5" cy="241.7" rx="4.0" ry="2.5" fill="#ffe200"/>
<ellipse cx="622.5" cy="263.8" rx="3.0" ry="3.0" fill="#ffe200"/>
<ellipse cx="657.5" cy="280.5" rx="2.5" ry="3.0" fill="#ffe200"/>
<ellipse cx="676.0" cy="293.4" rx="2.5" ry="2.5" fill="#ffe200"/>
<ellipse cx="653.8" cy="300.8" rx="2.5" ry="3.0" fill="#ffe200"/>
<ellipse cx="240.0" cy="600.0" rx="2.5" ry="2.0" fill="#ffe200"/>
<ellipse cx="275.0" cy="560.0" rx="3.0" ry="2.0" fill="#ffe200"/>
<ellipse cx="388.0" cy="616.0" rx="2.0" ry="3.5" fill="#ffe200"/>
<ellipse cx="403.0" cy="625.0" rx="2.5" ry="3.5" fill="#ffe200"/>
<ellipse cx="430.0" cy="630.0" rx="2.5" ry="2.0" fill="#ffe200"/>
<ellipse cx="478.0" cy="629.0" rx="3.0" ry="2.5" fill="#ffe200"/>
<ellipse cx="548.0" cy="613.0" rx="3.0" ry="2.0" fill="#ffe200"/>
<ellipse cx="567.0" cy="622.0" rx="3.5" ry="2.5" fill="#ffe200"/>
<ellipse cx="630.0" cy="610.0" rx="3.0" ry="2.0" fill="#ffe200"/>
<ellipse cx="344.0" cy="659.0" rx="2.5" ry="2.5" fill="#ffe200"/>
<ellipse cx="205.0" cy="566.0" rx="2.0" ry="3.0" fill="#ffe200"/>
<ellipse cx="370.0" cy="246.0" rx="2.0" ry="2.0" fill="#ffe200"/>
<ellipse cx="398.0" cy="244.0" rx="2.0" ry="3.0" fill="#ffe200"/>
<ellipse cx="760.0" cy="510.0" rx="2.0" ry="4.0" fill="#ffe200"/>
<ellipse cx="764.0" cy="540.0" rx="2.5" ry="5.0" fill="#ffe200"/>
<ellipse cx="720.0" cy="349.0" rx="2.0" ry="4.0" fill="#ffe200"/>
<ellipse cx="735.0" cy="342.0" rx="2.0" ry="3.0" fill="#ffe200"/>
<ellipse cx="180.0" cy="590.0" rx="3.0" ry="2.0" fill="#ffe200"/>
<ellipse cx="293.0" cy="590.0" rx="2.0" ry="3.0" fill="#ffe200"/>
<ellipse cx="174.0" cy="400.0" rx="3.5" ry="14.0" transform="rotate(30.0 174.0 400.0)" fill="#ffe200"/>
<ellipse cx="138.0" cy="472.0" rx="3.0" ry="14.0" transform="rotate(20.0 138.0 472.0)" fill="#ffe200"/>
<ellipse cx="119.0" cy="532.0" rx="3.0" ry="18.0" transform="rotate(14.0 119.0 532.0)" fill="#ffe200"/>
<ellipse cx="165.0" cy="421.7" rx="3.0" ry="5.0" transform="rotate(20.0 165.0 421.7)" fill="#ffe200"/>
<ellipse cx="225.0" cy="625.0" rx="28.0" ry="3.2" transform="rotate(17.0 225.0 625.0)" fill="#f2de00"/>
<ellipse cx="520.0" cy="646.0" rx="28.0" ry="3.5" transform="rotate(-8.0 520.0 646.0)" fill="#f2de00"/>
<ellipse cx="470.0" cy="648.0" rx="17.0" ry="2.8" transform="rotate(0.0 470.0 648.0)" fill="#b59f04"/>
<ellipse cx="620.0" cy="625.0" rx="20.0" ry="3.8" transform="rotate(-16.0 620.0 625.0)" fill="#f2de00"/>
<ellipse cx="773.0" cy="520.0" rx="3.5" ry="28.0" transform="rotate(28.0 773.0 520.0)" fill="#f2de00"/>
<ellipse cx="300.0" cy="643.0" rx="14.0" ry="2.5" transform="rotate(12.0 300.0 643.0)" fill="#b59f04"/>
<ellipse cx="215.0" cy="258.0" rx="20.0" ry="3.0" transform="rotate(-33.0 215.0 258.0)" fill="#ffe200"/>
<ellipse cx="350.0" cy="232.0" rx="16.0" ry="3.5" transform="rotate(-20.0 350.0 232.0)" fill="#ffe200"/>
<ellipse cx="560.0" cy="216.0" rx="16.0" ry="3.0" transform="rotate(12.0 560.0 216.0)" fill="#ffe200"/>
<ellipse cx="706.0" cy="300.0" rx="3.0" ry="14.0" transform="rotate(-48.0 706.0 300.0)" fill="#ffe200"/>
<path d="M318.0,460.0 C319.7,457.7 324.0,457.5 326.0,458.0 C328.0,458.5 328.8,461.0 330.0,463.0 C331.2,465.0 333.3,468.2 333.0,470.0 C332.7,471.8 329.8,473.0 328.0,474.0 C326.2,475.0 324.0,476.3 322.0,476.0 C320.0,475.7 316.7,474.7 316.0,472.0 C315.3,469.3 316.3,462.3 318.0,460.0 Z" fill="#c9d82a"/>
<path d="M608.0,300.0 C609.7,298.8 613.3,301.7 616.0,303.0 C618.7,304.3 622.2,306.0 624.0,308.0 C625.8,310.0 627.7,313.3 627.0,315.0 C626.3,316.7 622.5,317.8 620.0,318.0 C617.5,318.2 614.3,317.3 612.0,316.0 C609.7,314.7 606.7,312.7 606.0,310.0 C605.3,307.3 606.3,301.2 608.0,300.0 Z" fill="#c9d82a"/>
<path d="M206.0,575.0 C207.5,574.3 211.5,574.3 213.0,576.0 C214.5,577.7 215.2,582.5 215.0,585.0 C214.8,587.5 213.5,590.5 212.0,591.0 C210.5,591.5 207.3,589.8 206.0,588.0 C204.7,586.2 204.0,582.2 204.0,580.0 C204.0,577.8 204.5,575.7 206.0,575.0 Z" fill="#c9d82a"/>
<path d="M303.0,596.0 C304.8,594.7 309.7,593.8 313.0,594.0 C316.3,594.2 321.0,595.3 323.0,597.0 C325.0,598.7 326.2,602.3 325.0,604.0 C323.8,605.7 318.7,606.7 316.0,607.0 C313.3,607.3 311.3,606.8 309.0,606.0 C306.7,605.2 303.0,603.7 302.0,602.0 C301.0,600.3 301.2,597.3 303.0,596.0 Z" fill="#c9d82a"/>
<path d="M423.0,610.0 C424.2,609.2 426.8,609.5 428.0,611.0 C429.2,612.5 430.5,617.3 430.0,619.0 C429.5,620.7 426.5,621.5 425.0,621.0 C423.5,620.5 421.3,617.8 421.0,616.0 C420.7,614.2 421.8,610.8 423.0,610.0 Z" fill="#c9d82a"/>
<path d="M638.0,535.0 C638.8,532.5 643.3,531.7 645.0,533.0 C646.7,534.3 646.3,539.8 648.0,543.0 C649.7,546.2 653.0,549.2 655.0,552.0 C657.0,554.8 658.8,557.3 660.0,560.0 C661.2,562.7 662.7,567.0 662.0,568.0 C661.3,569.0 658.3,568.0 656.0,566.0 C653.7,564.0 650.7,559.0 648.0,556.0 C645.3,553.0 641.7,551.5 640.0,548.0 C638.3,544.5 637.2,537.5 638.0,535.0 Z" fill="#c9d82a"/>
<path d="M266.0,268.0 C267.2,264.2 272.8,260.0 275.0,262.0 C277.2,264.0 278.8,273.7 279.0,280.0 C279.2,286.3 277.5,296.3 276.0,300.0 C274.5,303.7 271.3,304.5 270.0,302.0 C268.7,299.5 268.7,290.7 268.0,285.0 C267.3,279.3 264.8,271.8 266.0,268.0 Z" fill="#c9d82a"/>
<path d="M427.0,242.0 C428.0,239.7 435.8,237.0 438.0,238.0 C440.2,239.0 441.0,245.7 440.0,248.0 C439.0,250.3 434.2,253.0 432.0,252.0 C429.8,251.0 426.0,244.3 427.0,242.0 Z" fill="#c9d82a"/>
<path d="M652.0,604.0 C653.3,602.3 660.2,601.7 664.0,602.0 C667.8,602.3 674.0,604.3 675.0,606.0 C676.0,607.7 673.2,611.0 670.0,612.0 C666.8,613.0 659.0,613.3 656.0,612.0 C653.0,610.7 650.7,605.7 652.0,604.0 Z" fill="#c9d82a"/>
<path d="M780.0,415.0 C781.3,412.5 787.5,410.3 790.0,412.0 C792.5,413.7 794.5,420.3 795.0,425.0 C795.5,429.7 794.7,437.8 793.0,440.0 C791.3,442.2 786.8,440.2 785.0,438.0 C783.2,435.8 782.8,430.8 782.0,427.0 C781.2,423.2 778.7,417.5 780.0,415.0 Z" fill="#c9d82a"/>
<line x1="637.6" y1="548.5" x2="731" y2="553.7" stroke="#dcc41a" stroke-width="3"/>
<path d="M79.0,588.0 82.1,575.1 82.9,571.7 83.9,567.7 84.9,563.2 86.1,558.3 87.3,553.0 88.7,547.5 90.0,541.8 91.5,535.9 92.9,530.0 94.4,524.1 95.8,518.3 97.3,512.7 98.8,507.2 100.2,502.1 101.6,497.3 102.9,492.9 104.2,488.7 105.5,484.6 106.7,480.6 108.0,476.7 109.3,472.9 110.5,469.1 111.9,465.3 113.2,461.6 114.6,457.9 116.0,454.2 117.5,450.4 119.1,446.6 120.7,442.7 122.4,438.8 124.2,434.7 126.1,430.6 128.0,426.3 130.1,421.9 132.2,417.5 134.4,413.1 136.7,408.6 139.0,404.1 141.3,399.6 143.7,395.2 146.0,390.8 148.4,386.4 150.7,382.2 153.1,378.0 155.4,374.0 157.7,370.1 159.9,366.3 162.1,362.7 164.3,359.2 166.5,355.8 168.6,352.5 170.8,349.3 172.9,346.1 175.1,343.1 177.2,340.1 179.4,337.2 181.5,334.3 183.7,331.5 185.8,328.7 187.9,326.0 190.1,323.2 192.3,320.5 194.5,317.8 196.7,315.1 199.0,312.4 201.3,309.7 203.6,307.0 205.9,304.4 208.3,301.9 210.6,299.3 212.9,296.9 215.3,294.4 217.6,292.0 219.9,289.7 222.2,287.4 224.4,285.1 226.6,282.9 228.8,280.8 231.0,278.7 233.1,276.7 235.2,274.7 237.1,272.9 239.1,271.1 241.0,269.3 242.9,267.6 244.8,265.9 246.7,264.3 248.7,262.6 250.7,261.0 252.8,259.3 254.9,257.7 257.1,256.0 259.3,254.3 261.2,252.8 262.3,251.8 262.9,251.0 264.7,247.6 270.1,240.8 278.4,237.9 282.2,237.3 283.5,236.8 285.6,235.5 288.7,233.4 292.0,231.2 295.4,229.0 298.7,226.9 302.1,224.7 305.5,222.7 308.8,220.7 312.2,218.8 315.4,217.1 318.6,215.4 321.8,213.8 324.9,212.4 328.1,210.9 331.2,209.6 334.3,208.3 337.3,207.1 340.4,205.9 343.4,204.8 346.4,203.7 349.4,202.6 352.4,201.6 355.3,200.6 358.3,199.7 361.2,198.7 364.1,197.8 367.1,196.9 370.1,196.0 373.1,195.1 376.1,194.2 379.1,193.4 382.1,192.6 385.1,191.9 388.1,191.2 391.1,190.5 394.0,189.8 397.0,189.2 400.0,188.6 403.0,188.0 406.0,187.5 409.0,186.9 412.0,186.5 415.0,186.0 418.0,185.6 421.1,185.2 424.1,184.8 427.1,184.5 430.1,184.2 433.1,183.9 436.1,183.7 439.0,183.5 442.0,183.3 445.0,183.2 448.0,183.0 450.9,182.9 453.9,182.8 456.9,182.8 459.8,182.7 462.8,182.7 465.8,182.7 468.8,182.8 471.7,182.8 474.7,182.9 477.6,183.1 480.6,183.2 483.5,183.4 486.4,183.6 489.4,183.8 492.3,184.0 495.3,184.2 498.2,184.5 501.2,184.7 504.1,185.0 507.1,185.3 510.2,185.6 513.2,186.0 516.3,186.3 519.5,186.7 522.6,187.1 525.8,187.5 529.0,187.9 532.2,188.3 535.3,188.8 538.5,189.3 541.7,189.8 544.8,190.3 547.9,190.8 550.7,191.2 552.8,191.5 554.3,191.6 556.2,191.4 560.2,190.6 566.6,190.7 572.5,193.1 575.9,195.5 577.5,196.5 578.9,197.1 580.8,197.8 583.4,198.5 586.1,199.2 588.9,200.0 591.6,200.8 594.3,201.7 597.0,202.6 599.6,203.5 602.2,204.4 604.7,205.4 607.3,206.5 609.7,207.6 612.1,208.7 614.4,209.8 616.6,211.0 618.8,212.2 620.9,213.4 622.9,214.5 624.9,215.7 626.8,216.8 628.6,217.9 630.3,219.0 633.7,221.0 636.9,222.9 639.9,224.7 642.6,226.4 645.1,228.1 647.4,229.7 649.7,231.2 651.9,232.8 654.3,234.4 657.0,236.2 659.9,238.0 663.0,239.9 666.1,241.9 669.4,243.9 672.6,246.0 675.9,248.1 679.2,250.3 682.4,252.5 685.6,254.7 688.9,257.0 692.2,259.3 695.5,261.7 698.7,264.1 701.9,266.5 705.0,268.9 707.8,271.2 710.3,273.4 712.6,275.4 714.9,277.4 717.0,279.5 719.3,281.8 721.8,284.4 724.7,287.3 726.3,289.0 728.0,290.8 729.8,292.7 731.8,294.7 733.9,296.9 736.0,299.1 738.2,301.5 740.5,303.9 742.8,306.3 745.1,308.8 747.5,311.4 749.8,313.9 752.1,316.5 754.4,319.1 756.6,321.7 758.7,324.2 760.8,326.8 762.8,329.3 764.8,331.8 766.7,334.4 768.7,337.1 770.6,339.7 772.4,342.3 774.3,345.0 776.1,347.6 777.9,350.2 779.6,352.7 781.2,355.2 782.8,357.7 784.4,360.0 785.8,362.3 787.3,364.4 788.6,366.5 789.9,368.5 791.1,370.3 792.2,372.1 794.4,375.4 796.3,378.6 798.1,381.6 799.6,384.3 800.9,386.3 802.1,387.8 805.1,390.5 809.8,396.7 810.7,404.5 810.5,407.4 810.5,408.3 810.8,410.5 811.5,413.1 812.5,416.3 813.4,419.7 814.3,422.9 815.0,425.9 815.6,428.8 816.1,431.7 816.5,434.5 816.9,437.3 817.1,440.1 817.4,443.0 817.5,446.0 817.6,449.1 817.7,452.3 817.7,455.6 817.6,459.0 817.4,462.5 817.1,466.1 816.7,469.8 816.1,473.5 815.5,477.4 814.7,481.4 813.8,485.4 812.8,489.5 811.8,493.5 810.7,497.5 809.5,501.5 808.3,505.3 807.1,509.1 805.7,512.9 804.3,516.6 802.9,520.4 801.3,524.1 799.7,527.7 798.0,531.3 796.3,534.7 794.5,538.0 792.8,541.3 790.9,544.5 788.9,547.7 786.8,551.0 784.5,554.2 782.0,557.4 779.4,560.6 778.0,562.3 776.6,564.0 775.1,565.6 773.6,567.3 772.0,569.0 770.4,570.7 768.8,572.4 767.1,574.0 765.4,575.7 763.7,577.3 762.0,578.9 760.2,580.4 758.4,582.0 756.6,583.4 754.8,584.9 752.9,586.3 751.0,587.7 749.0,589.0 747.1,590.2 745.1,591.4 743.2,592.5 741.3,593.6 739.4,594.6 737.5,595.6 735.6,596.6 733.9,597.5 730.4,599.3 727.2,601.1 724.0,602.9 720.8,604.8 717.6,606.6 714.5,608.4 711.4,610.1 708.5,611.8 706.3,613.1 705.4,613.9 704.5,615.2 703.3,617.3 697.7,624.0 689.2,626.1 686.1,626.2 685.4,626.3 683.8,626.7 681.7,627.7 678.4,629.4 674.4,631.1 670.2,632.7 667.9,633.4 665.7,634.0 663.5,634.7 661.3,635.2 659.1,635.8 657.0,636.3 655.0,636.8 653.0,637.2 649.3,638.1 646.1,638.9 643.7,639.6 642.4,640.1 641.7,640.5 640.0,641.7 636.7,643.3 633.4,644.6 629.6,645.8 627.3,646.5 624.9,647.2 622.4,648.0 619.6,648.8 616.7,649.6 613.6,650.5 610.4,651.4 607.0,652.3 603.6,653.3 600.0,654.2 596.4,655.1 592.7,656.0 588.9,656.9 585.1,657.8 581.3,658.7 577.5,659.5 573.7,660.2 569.7,661.0 565.6,661.8 561.4,662.5 557.1,663.3 552.8,664.1 548.4,664.8 544.0,665.5 539.5,666.3 535.1,666.9 530.6,667.6 526.2,668.2 521.9,668.8 517.6,669.4 513.4,669.9 509.3,670.3 505.4,670.7 501.6,671.1 498.0,671.4 494.4,671.7 490.9,671.9 487.4,672.1 483.9,672.3 480.5,672.4 477.0,672.5 473.5,672.6 469.9,672.7 466.2,672.8 462.4,672.8 458.5,672.9 454.4,672.9 450.0,672.9 445.4,672.9 440.5,672.9 435.3,672.8 430.0,672.8 424.5,672.7 418.9,672.6 413.2,672.5 407.5,672.4 401.8,672.2 396.2,672.1 390.7,671.9 385.3,671.7 380.2,671.5 375.3,671.3 370.6,671.1 366.3,670.9 362.4,670.7 358.7,670.4 355.3,670.2 352.2,670.0 349.2,669.8 346.3,669.5 343.6,669.3 341.1,669.0 338.9,668.8 337.6,668.8 337.1,668.8 336.0,669.2 332.0,670.7 323.6,671.7 315.9,668.1 312.6,665.4 311.6,664.9 309.8,664.4 306.5,663.8 302.6,663.0 298.5,662.3 294.4,661.5 290.2,660.6 285.9,659.8 281.7,658.9 277.4,658.0 273.2,657.1 269.0,656.2 264.9,655.3 260.8,654.4 256.9,653.5 253.0,652.6 249.3,651.7 245.6,650.8 242.0,649.9 238.5,649.0 234.9,648.1 231.5,647.2 228.0,646.2 224.6,645.3 221.2,644.4 217.8,643.4 214.4,642.4 211.0,641.5 207.6,640.5 204.2,639.4 200.7,638.4 197.2,637.3 193.7,636.3 190.2,635.2 186.7,634.1 183.1,633.0 179.5,631.9 175.9,630.7 172.3,629.6 168.7,628.4 165.1,627.2 161.5,626.0 157.9,624.7 154.3,623.4 150.7,622.1 147.1,620.8 143.6,619.4 140.1,618.0 136.4,616.4 132.7,614.8 128.9,613.1 125.1,611.3 121.3,609.4 117.5,607.6 113.8,605.7 110.1,603.9 106.6,602.1 103.2,600.3 100.0,598.7 97.1,597.1 94.4,595.7 92.0,594.5 89.9,593.4 Z M101.6,570.3 103.8,571.4 106.3,572.7 109.0,574.1 112.0,575.7 115.1,577.3 118.4,579.0 121.9,580.8 125.4,582.6 129.0,584.4 132.6,586.1 136.3,587.9 139.9,589.6 143.3,591.2 146.7,592.7 149.9,594.0 153.1,595.3 156.4,596.6 159.7,597.9 163.1,599.1 166.5,600.3 169.9,601.5 173.3,602.7 176.8,603.9 180.3,605.0 183.8,606.1 187.3,607.2 190.8,608.3 194.3,609.4 197.8,610.5 201.3,611.6 204.8,612.7 208.2,613.7 211.6,614.7 214.9,615.7 218.2,616.7 221.5,617.7 224.8,618.6 228.1,619.5 231.4,620.4 234.7,621.3 238.1,622.2 241.4,623.1 244.8,624.0 248.3,624.9 251.8,625.7 255.3,626.6 259.0,627.4 262.7,628.3 266.5,629.2 270.5,630.1 274.5,631.0 278.6,631.9 282.8,632.8 286.9,633.6 291.1,634.5 295.2,635.3 299.3,636.1 303.4,636.9 307.4,637.7 311.3,638.4 315.6,639.2 321.2,640.7 326.9,643.8 329.7,646.1 327.9,645.2 325.6,645.5 327.6,644.7 332.2,643.4 336.9,642.9 340.7,643.1 343.6,643.4 346.1,643.6 348.6,643.8 351.3,644.1 354.1,644.3 357.1,644.5 360.3,644.7 363.8,644.9 367.7,645.1 371.9,645.3 376.4,645.5 381.2,645.7 386.3,645.9 391.5,646.1 397.0,646.3 402.5,646.4 408.1,646.6 413.8,646.7 419.4,646.8 424.9,646.9 430.3,647.0 435.6,647.0 440.6,647.1 445.5,647.1 450.0,647.1 454.2,647.1 458.3,647.1 462.2,647.0 465.9,647.0 469.4,646.9 472.9,646.8 476.2,646.8 479.5,646.6 482.8,646.5 486.0,646.3 489.2,646.1 492.5,645.9 495.9,645.7 499.3,645.4 502.9,645.0 506.7,644.7 510.5,644.3 514.5,643.8 518.6,643.3 522.8,642.8 527.0,642.2 531.3,641.6 535.6,640.9 539.9,640.3 544.2,639.6 548.5,638.9 552.8,638.2 556.9,637.4 561.0,636.7 565.0,636.0 568.8,635.3 572.5,634.5 576.1,633.8 579.7,633.1 583.3,632.3 586.8,631.5 590.4,630.7 593.8,629.8 597.3,629.0 600.6,628.1 603.9,627.3 607.0,626.4 610.0,625.6 612.8,624.8 615.5,624.1 618.1,623.4 620.4,622.7 622.4,622.2 625.4,621.3 626.8,620.8 627.7,620.3 629.7,619.1 633.0,617.5 636.3,616.4 639.9,615.4 643.7,614.5 647.6,613.6 649.6,613.2 651.6,612.7 653.6,612.3 655.5,611.8 657.4,611.4 659.3,610.9 661.0,610.4 662.6,609.9 665.6,608.9 668.4,607.7 671.5,606.2 675.9,604.2 681.7,602.8 685.0,602.6 686.0,602.6 684.7,602.9 683.9,604.0 684.7,602.6 688.4,597.5 693.1,593.9 696.9,591.6 700.1,589.9 703.2,588.2 706.3,586.5 709.5,584.7 712.7,582.9 716.2,581.0 719.8,579.1 723.5,577.3 725.3,576.4 727.0,575.5 728.8,574.6 730.5,573.7 732.1,572.8 733.8,571.9 735.4,571.0 736.9,570.0 738.4,569.1 739.8,568.1 741.2,567.1 742.6,566.0 744.1,564.8 745.5,563.5 747.0,562.2 748.5,560.9 749.9,559.5 751.4,558.1 752.8,556.6 754.3,555.2 755.7,553.7 757.0,552.2 758.4,550.7 759.7,549.3 760.9,547.8 762.1,546.4 764.4,543.6 766.4,540.9 768.2,538.3 769.9,535.7 771.5,533.0 773.1,530.3 774.6,527.5 776.1,524.5 777.6,521.4 779.1,518.3 780.4,515.2 781.8,511.9 783.0,508.6 784.3,505.2 785.4,501.8 786.5,498.3 787.6,494.9 788.6,491.3 789.6,487.7 790.5,484.0 791.3,480.4 792.1,476.8 792.8,473.3 793.3,469.9 793.8,466.8 794.1,463.8 794.4,460.9 794.6,458.0 794.7,455.2 794.7,452.4 794.7,449.6 794.6,446.9 794.5,444.2 794.4,441.7 794.2,439.4 794.0,437.3 793.8,435.1 793.4,432.9 793.0,430.6 792.4,428.1 791.8,425.3 791.0,422.2 790.1,418.8 789.1,414.4 788.6,409.1 788.7,406.0 788.9,404.8 788.9,404.8 789.0,404.8 786.3,402.2 783.3,398.3 781.3,394.7 779.8,391.8 778.3,389.0 776.6,386.1 774.8,383.0 773.7,381.3 772.6,379.4 771.4,377.5 770.1,375.4 768.7,373.3 767.3,371.0 765.8,368.7 764.3,366.3 762.7,363.9 761.1,361.4 759.4,358.9 757.7,356.4 756.0,353.8 754.2,351.3 752.4,348.8 750.6,346.3 748.8,343.9 747.0,341.5 745.2,339.2 743.4,336.9 741.4,334.6 739.3,332.2 737.2,329.8 735.0,327.4 732.7,324.9 730.5,322.5 728.2,320.0 725.9,317.7 723.7,315.3 721.5,313.1 719.4,310.9 717.3,308.7 715.3,306.7 713.5,304.8 711.7,303.0 710.1,301.4 707.4,298.5 705.0,296.1 702.9,294.1 701.0,292.3 699.1,290.6 697.1,288.8 694.8,286.9 692.2,284.9 689.5,282.7 686.5,280.6 683.5,278.4 680.3,276.2 677.1,274.0 673.9,271.8 670.7,269.7 667.6,267.6 664.6,265.5 661.4,263.5 658.2,261.5 655.1,259.5 651.9,257.5 648.8,255.6 645.8,253.7 642.9,251.8 640.3,250.1 637.9,248.4 635.6,246.9 633.5,245.4 631.3,244.0 628.9,242.5 626.2,240.9 623.1,239.1 619.6,237.1 617.8,236.1 616.0,235.0 614.2,234.0 612.4,233.0 610.5,231.9 608.7,230.9 606.8,229.9 604.8,229.0 602.9,228.0 600.9,227.2 598.9,226.3 596.9,225.5 594.8,224.8 592.6,224.1 590.4,223.4 588.0,222.7 585.6,222.0 583.1,221.4 580.5,220.8 577.8,220.2 574.9,219.5 571.3,218.5 567.3,216.9 563.6,214.7 561.7,213.5 562.1,213.7 562.5,213.8 560.2,214.3 556.0,215.0 551.4,215.0 547.6,214.6 544.3,214.2 541.3,213.8 538.3,213.4 535.3,213.0 532.2,212.7 529.2,212.3 526.1,212.0 523.0,211.7 519.9,211.4 516.9,211.1 513.8,210.8 510.8,210.6 507.8,210.3 504.9,210.1 501.9,209.9 499.0,209.6 496.2,209.4 493.3,209.2 490.5,209.0 487.7,208.8 484.9,208.6 482.1,208.5 479.4,208.4 476.6,208.3 473.9,208.2 471.1,208.1 468.4,208.1 465.7,208.0 462.9,208.1 460.2,208.1 457.4,208.1 454.6,208.2 451.8,208.3 449.0,208.4 446.2,208.5 443.5,208.7 440.7,208.8 437.9,209.0 435.2,209.3 432.4,209.5 429.7,209.8 426.9,210.1 424.2,210.4 421.5,210.7 418.7,211.1 416.0,211.5 413.2,212.0 410.5,212.5 407.7,213.0 405.0,213.5 402.2,214.1 399.5,214.7 396.7,215.3 394.0,216.0 391.2,216.6 388.5,217.4 385.7,218.1 383.0,218.9 380.2,219.6 377.4,220.5 374.7,221.3 371.9,222.2 369.0,223.1 366.2,224.0 363.4,225.0 360.6,225.9 357.8,226.9 355.1,227.9 352.3,228.9 349.6,229.9 346.8,231.0 344.1,232.1 341.4,233.3 338.6,234.5 335.9,235.8 333.1,237.1 330.4,238.5 327.6,239.9 324.8,241.5 321.8,243.1 318.8,244.9 315.7,246.8 312.6,248.8 309.4,250.8 306.2,252.9 303.0,255.0 299.6,257.3 295.1,260.0 289.1,262.4 284.7,263.2 285.7,262.8 286.5,261.8 284.8,265.1 281.3,269.6 277.8,272.7 275.1,274.8 272.9,276.5 270.8,278.1 268.9,279.6 267.0,281.1 265.3,282.6 263.5,284.0 261.8,285.5 260.1,287.0 258.3,288.6 256.6,290.1 254.8,291.8 252.9,293.6 251.0,295.4 249.0,297.3 246.9,299.3 244.8,301.4 242.6,303.5 240.5,305.7 238.3,307.9 236.1,310.1 233.9,312.3 231.8,314.6 229.6,317.0 227.4,319.4 225.2,321.8 223.0,324.2 220.9,326.6 218.7,329.1 216.6,331.6 214.5,334.2 212.4,336.8 210.4,339.4 208.3,342.0 206.2,344.6 204.2,347.2 202.2,349.9 200.2,352.6 198.2,355.3 196.2,358.1 194.2,360.9 192.2,363.8 190.2,366.8 188.2,369.9 186.2,373.0 184.2,376.3 182.1,379.7 180.0,383.2 177.8,386.9 175.6,390.8 173.4,394.8 171.1,398.9 168.8,403.1 166.5,407.3 164.3,411.6 162.0,416.0 159.8,420.3 157.6,424.6 155.5,428.9 153.5,433.1 151.5,437.3 149.6,441.3 147.8,445.3 146.1,449.1 144.5,452.8 143.0,456.5 141.6,460.1 140.2,463.6 138.8,467.1 137.5,470.5 136.3,474.0 135.0,477.6 133.8,481.1 132.6,484.8 131.4,488.5 130.2,492.3 128.9,496.3 127.7,500.4 126.4,504.7 125.1,509.2 123.8,514.0 122.4,519.3 120.9,524.8 119.5,530.4 118.0,536.2 116.6,542.1 115.2,547.8 113.9,553.5 112.5,559.0 111.3,564.2 110.2,569.2 109.1,573.7 108.1,577.7 107.3,581.2 109.0,574.0 Z" fill="#f2de00" fill-rule="evenodd"/>
</g>
<!-- nucleolus -->
<ellipse cx="555" cy="457" rx="123" ry="120.5" fill="#b8a513"/>
<ellipse cx="555" cy="457" rx="123" ry="120.5" fill="#b3a11c" clip-path="url(#below)"/>
<path d="M545,330 L700,330 L700,440 L677,449 C672.8,453.5 662.2,468.8 651.5,475.8 C640.8,482.8 629.0,487.4 613.0,491.2 C597.0,495.0 574.6,498.2 555.4,498.8 C536.2,499.4 513.3,497.0 497.7,495.0 C482.1,493.0 469.2,490.3 462.0,487.0 C454.8,483.7 455.8,479.6 454.5,475.0 C453.2,470.4 453.1,467.4 454.1,459.4 C455.1,451.4 457.4,438.3 460.6,427.0 C463.8,415.7 468.1,402.3 473.5,391.5 C478.9,380.7 484.9,370.2 493.0,362.4 C501.1,354.6 513.3,348.8 522.0,344.6 C530.7,340.4 541.2,338.3 545.0,337.0 Z" fill="#d4a642" clip-path="url(#sph)"/>
<path d="M581.3,349.9 C587.6,347.8 602.1,345.3 612.0,347.6 C621.9,349.9 634.0,358.5 640.7,363.6 C647.4,368.7 648.8,371.9 652.0,378.0 C655.2,384.1 658.7,392.3 660.0,400.0 C661.3,407.7 662.3,417.9 660.0,424.0 C657.7,430.1 653.4,434.0 646.4,436.7 C639.4,439.4 627.4,441.8 617.9,440.1 C608.4,438.4 596.9,432.5 589.3,426.4 C581.7,420.3 575.1,411.2 572.1,403.6 C569.1,396.0 570.7,388.0 571.0,380.7 C571.3,373.4 572.3,365.1 574.0,360.0 C575.7,354.9 575.0,352.0 581.3,349.9 Z" fill="#d9a833" clip-path="url(#sph)"/>
<path d="M612.1,357.3 C622,362 640,375 653.9,394.4 C650,402 646,406 644.1,408.1 C636,416 630,418.4 623.6,418.4 C612,418 602,412 598.4,405.9 C592,398 591,390 592.7,386.4 C594,374 602,362 612.1,357.3 Z" fill="#f9f1bc"/>
<circle cx="623" cy="387" r="8" fill="#ffffff"/>
<!-- membrane -->
<path d="M83.8,585.7 86.2,576.1 87.0,572.7 88.0,568.7 89.0,564.2 90.2,559.3 91.4,554.0 92.7,548.5 94.1,542.8 95.5,536.9 97.0,531.0 98.4,525.1 99.9,519.4 101.4,513.7 102.8,508.3 104.2,503.2 105.6,498.5 106.9,494.1 108.2,489.9 109.5,485.9 110.7,481.9 112.0,478.0 113.2,474.2 114.5,470.5 115.8,466.7 117.2,463.1 118.5,459.4 119.9,455.7 121.4,452.0 123.0,448.2 124.6,444.4 126.2,440.5 128.0,436.4 129.9,432.3 131.8,428.1 133.9,423.7 136.0,419.4 138.2,414.9 140.4,410.5 142.7,406.0 145.0,401.6 147.4,397.1 149.7,392.8 152.1,388.4 154.4,384.2 156.7,380.1 159.0,376.1 161.3,372.2 163.5,368.5 165.7,364.9 167.8,361.4 170.0,358.1 172.1,354.8 174.3,351.6 176.4,348.5 178.5,345.5 180.6,342.6 182.7,339.7 184.9,336.8 187.0,334.0 189.1,331.3 191.2,328.6 193.4,325.9 195.5,323.2 197.7,320.5 199.9,317.8 202.2,315.1 204.5,312.4 206.8,309.8 209.1,307.2 211.4,304.7 213.7,302.2 216.0,299.7 218.3,297.3 220.6,294.9 222.9,292.6 225.1,290.3 227.4,288.1 229.6,285.9 231.8,283.8 233.9,281.7 236.0,279.7 238.0,277.8 240.0,275.9 241.9,274.2 243.8,272.4 245.7,270.8 247.6,269.1 249.5,267.5 251.4,265.9 253.4,264.3 255.4,262.6 257.5,261.0 259.6,259.3 261.8,257.6 263.9,256.0 265.4,254.7 266.5,253.3 268.3,249.9 272.6,244.4 279.4,242.0 283.3,241.4 285.4,240.6 287.9,239.0 291.0,236.9 294.3,234.7 297.6,232.6 301.0,230.4 304.3,228.3 307.7,226.3 311.0,224.4 314.2,222.5 317.4,220.8 320.5,219.2 323.6,217.6 326.7,216.2 329.8,214.8 332.8,213.4 335.9,212.2 338.9,211.0 341.9,209.8 344.8,208.7 347.8,207.6 350.8,206.6 353.7,205.6 356.6,204.6 359.6,203.7 362.5,202.7 365.4,201.8 368.4,200.9 371.3,200.0 374.3,199.1 377.2,198.3 380.2,197.5 383.1,196.7 386.1,196.0 389.0,195.3 392.0,194.6 394.9,193.9 397.9,193.3 400.8,192.7 403.8,192.1 406.8,191.6 409.7,191.1 412.7,190.6 415.6,190.2 418.6,189.7 421.6,189.3 424.5,189.0 427.5,188.7 430.5,188.4 433.4,188.1 436.4,187.9 439.3,187.7 442.3,187.5 445.2,187.4 448.2,187.2 451.1,187.1 454.0,187.0 457.0,187.0 459.9,186.9 462.8,186.9 465.8,186.9 468.7,187.0 471.6,187.0 474.6,187.1 477.5,187.3 480.4,187.4 483.3,187.6 486.2,187.8 489.1,188.0 492.0,188.2 494.9,188.4 497.9,188.7 500.8,188.9 503.8,189.2 506.7,189.5 509.8,189.8 512.8,190.1 515.9,190.5 519.0,190.9 522.2,191.3 525.3,191.7 528.5,192.1 531.6,192.5 534.8,193.0 537.9,193.4 541.1,193.9 544.2,194.4 547.2,194.9 550.1,195.4 552.6,195.7 554.6,195.8 556.9,195.5 560.6,194.8 565.8,194.9 570.6,196.9 573.6,199.0 575.6,200.3 577.5,201.1 579.7,201.8 582.3,202.5 585.0,203.3 587.8,204.1 590.5,204.9 593.1,205.7 595.7,206.6 598.3,207.5 600.7,208.4 603.2,209.3 605.6,210.4 608.0,211.4 610.3,212.5 612.5,213.6 614.7,214.7 616.8,215.9 618.8,217.0 620.8,218.2 622.8,219.3 624.6,220.5 626.5,221.6 628.2,222.6 631.5,224.6 634.7,226.5 637.7,228.3 640.3,230.0 642.7,231.6 645.0,233.2 647.3,234.7 649.6,236.3 652.0,237.9 654.8,239.7 657.7,241.5 660.7,243.5 663.9,245.4 667.1,247.5 670.4,249.5 673.6,251.6 676.9,253.8 680.1,256.0 683.3,258.2 686.5,260.4 689.8,262.7 693.0,265.1 696.2,267.4 699.4,269.8 702.4,272.2 705.1,274.5 707.6,276.6 709.9,278.5 712.0,280.5 714.1,282.5 716.4,284.8 718.8,287.3 721.7,290.2 723.2,291.9 725.0,293.7 726.8,295.6 728.8,297.7 730.8,299.8 733.0,302.0 735.2,304.4 737.4,306.8 739.7,309.2 742.1,311.7 744.4,314.2 746.7,316.8 749.0,319.3 751.2,321.9 753.4,324.4 755.5,326.9 757.5,329.4 759.5,331.9 761.4,334.4 763.3,336.9 765.3,339.5 767.1,342.1 769.0,344.7 770.8,347.4 772.6,350.0 774.4,352.5 776.1,355.1 777.7,357.5 779.3,360.0 780.8,362.3 782.3,364.6 783.7,366.7 785.1,368.8 786.3,370.7 787.5,372.5 788.7,374.3 790.8,377.6 792.7,380.7 794.4,383.6 796.0,386.4 797.4,388.7 799.0,390.6 802.0,393.3 805.7,398.3 806.4,404.5 806.3,407.1 806.2,408.5 806.6,411.2 807.4,414.2 808.4,417.5 809.4,420.7 810.2,423.8 810.9,426.8 811.5,429.6 812.0,432.3 812.4,435.0 812.7,437.7 813.0,440.4 813.2,443.2 813.3,446.2 813.4,449.2 813.5,452.3 813.5,455.5 813.4,458.8 813.2,462.2 812.9,465.7 812.5,469.2 812.0,472.9 811.3,476.7 810.6,480.5 809.7,484.5 808.7,488.5 807.7,492.5 806.6,496.4 805.5,500.3 804.3,504.0 803.1,507.7 801.8,511.5 800.4,515.1 799.0,518.8 797.4,522.4 795.9,526.0 794.2,529.5 792.5,532.8 790.8,536.1 789.1,539.2 787.3,542.4 785.4,545.5 783.3,548.6 781.1,551.7 778.7,554.8 776.2,558.0 774.8,559.6 773.4,561.2 771.9,562.8 770.5,564.5 768.9,566.1 767.4,567.8 765.8,569.4 764.2,571.0 762.5,572.6 760.9,574.2 759.2,575.8 757.5,577.3 755.8,578.7 754.0,580.2 752.3,581.6 750.5,582.9 748.6,584.2 746.8,585.5 744.9,586.6 743.0,587.8 741.1,588.9 739.3,589.9 737.4,590.9 735.5,591.9 733.7,592.9 731.9,593.8 728.5,595.6 725.1,597.4 721.9,599.3 718.7,601.1 715.5,602.9 712.4,604.7 709.4,606.4 706.4,608.1 703.9,609.7 702.3,611.0 701.0,612.9 699.9,614.9 695.4,620.2 688.6,621.9 685.9,622.0 684.7,622.1 682.4,622.7 679.9,623.9 676.6,625.6 672.9,627.2 668.9,628.7 666.7,629.4 664.6,630.0 662.4,630.6 660.3,631.1 658.2,631.7 656.1,632.2 654.0,632.7 652.0,633.1 648.3,634.0 645.1,634.8 642.4,635.6 640.8,636.2 639.6,636.8 637.9,638.0 635.0,639.5 632.1,640.6 628.4,641.8 626.1,642.5 623.8,643.2 621.2,643.9 618.5,644.7 615.6,645.6 612.5,646.5 609.3,647.4 605.9,648.3 602.5,649.2 599.0,650.1 595.4,651.0 591.7,651.9 588.0,652.8 584.2,653.7 580.4,654.5 576.7,655.3 572.9,656.1 568.9,656.9 564.8,657.6 560.7,658.4 556.4,659.2 552.1,659.9 547.7,660.7 543.3,661.4 538.9,662.1 534.4,662.8 530.0,663.4 525.7,664.1 521.3,664.7 517.1,665.2 512.9,665.7 508.9,666.2 505.0,666.5 501.3,666.9 497.6,667.2 494.1,667.5 490.6,667.7 487.2,667.9 483.8,668.1 480.3,668.2 476.9,668.3 473.4,668.4 469.8,668.5 466.2,668.6 462.4,668.6 458.4,668.7 454.3,668.7 450.0,668.7 445.4,668.7 440.5,668.7 435.4,668.6 430.1,668.6 424.6,668.5 419.0,668.4 413.3,668.3 407.6,668.2 401.9,668.0 396.3,667.9 390.8,667.7 385.5,667.5 380.3,667.3 375.4,667.1 370.8,666.9 366.5,666.7 362.6,666.5 359.0,666.3 355.6,666.0 352.5,665.8 349.5,665.6 346.7,665.4 344.0,665.1 341.5,664.9 339.2,664.6 337.5,664.6 336.3,664.7 334.6,665.2 330.9,666.6 324.3,667.4 318.1,664.5 314.9,661.9 313.1,660.9 310.8,660.3 307.3,659.6 303.4,658.9 299.3,658.1 295.2,657.3 291.0,656.5 286.8,655.6 282.5,654.8 278.3,653.9 274.1,653.0 269.9,652.1 265.8,651.2 261.8,650.3 257.8,649.4 254.0,648.5 250.3,647.6 246.6,646.7 243.0,645.8 239.5,644.9 236.0,644.0 232.5,643.1 229.1,642.2 225.7,641.3 222.3,640.3 218.9,639.4 215.6,638.4 212.2,637.4 208.8,636.4 205.4,635.4 201.9,634.4 198.5,633.3 195.0,632.3 191.5,631.2 187.9,630.1 184.4,629.0 180.8,627.9 177.2,626.7 173.6,625.6 170.0,624.4 166.4,623.2 162.8,622.0 159.3,620.8 155.7,619.5 152.1,618.2 148.6,616.9 145.1,615.5 141.7,614.1 138.1,612.6 134.4,611.0 130.7,609.3 126.9,607.5 123.2,605.7 119.4,603.8 115.7,601.9 112.0,600.1 108.5,598.3 105.2,596.6 102.0,594.9 99.0,593.4 96.3,592.0 93.9,590.8 91.8,589.7 Z M99.7,574.1 101.9,575.2 104.4,576.5 107.1,577.9 110.0,579.4 113.2,581.0 116.5,582.7 120.0,584.5 123.5,586.3 127.2,588.1 130.8,589.9 134.5,591.7 138.1,593.4 141.6,595.0 145.1,596.5 148.3,597.9 151.6,599.2 154.9,600.5 158.3,601.8 161.7,603.1 165.1,604.3 168.5,605.5 172.0,606.7 175.5,607.8 179.0,609.0 182.5,610.1 186.0,611.2 189.5,612.4 193.1,613.5 196.6,614.5 200.1,615.6 203.5,616.7 207.0,617.7 210.4,618.7 213.7,619.7 217.0,620.7 220.4,621.7 223.7,622.6 227.0,623.6 230.3,624.5 233.6,625.4 237.0,626.3 240.4,627.2 243.8,628.1 247.3,628.9 250.8,629.8 254.3,630.7 258.0,631.5 261.7,632.4 265.6,633.3 269.6,634.2 273.6,635.1 277.7,636.0 281.9,636.9 286.1,637.7 290.2,638.6 294.4,639.4 298.5,640.3 302.6,641.1 306.6,641.8 310.5,642.5 314.7,643.3 319.6,644.7 324.6,647.3 327.4,649.6 327.2,649.5 326.7,649.6 329.0,648.7 333.0,647.5 337.0,647.1 340.4,647.3 343.1,647.5 345.7,647.8 348.3,648.0 350.9,648.3 353.7,648.5 356.8,648.7 360.1,648.9 363.6,649.1 367.5,649.3 371.7,649.5 376.2,649.7 381.0,649.9 386.1,650.1 391.4,650.3 396.8,650.5 402.4,650.6 408.0,650.8 413.7,650.9 419.3,651.0 424.8,651.1 430.3,651.2 435.6,651.2 440.6,651.3 445.4,651.3 450.0,651.3 454.3,651.3 458.3,651.3 462.2,651.2 465.9,651.2 469.5,651.1 473.0,651.0 476.3,651.0 479.7,650.8 482.9,650.7 486.2,650.5 489.5,650.3 492.8,650.1 496.2,649.9 499.7,649.6 503.3,649.2 507.1,648.8 511.0,648.4 515.0,648.0 519.1,647.5 523.3,646.9 527.6,646.3 531.9,645.7 536.2,645.1 540.6,644.4 544.9,643.7 549.2,643.0 553.5,642.3 557.7,641.6 561.8,640.8 565.7,640.1 569.6,639.4 573.3,638.7 577.0,637.9 580.6,637.2 584.2,636.4 587.8,635.6 591.4,634.7 594.9,633.9 598.3,633.0 601.7,632.2 604.9,631.3 608.1,630.5 611.1,629.7 614.0,628.9 616.7,628.1 619.2,627.4 621.6,626.8 623.6,626.2 626.8,625.2 628.5,624.6 629.8,624.0 631.7,622.8 634.7,621.4 637.6,620.4 641.0,619.4 644.7,618.6 648.5,617.7 650.5,617.3 652.5,616.8 654.5,616.4 656.5,615.9 658.5,615.4 660.4,614.9 662.2,614.4 663.9,613.9 667.1,612.8 670.1,611.5 673.3,610.0 677.3,608.2 682.3,607.0 685.2,606.8 686.6,606.8 687.1,606.7 687.4,606.4 688.2,604.8 691.5,600.5 695.5,597.4 699.0,595.3 702.2,593.5 705.3,591.8 708.4,590.1 711.6,588.4 714.8,586.6 718.2,584.7 721.8,582.9 725.4,581.0 727.2,580.1 729.0,579.2 730.7,578.3 732.5,577.4 734.2,576.5 735.9,575.5 737.5,574.6 739.2,573.6 740.7,572.6 742.3,571.5 743.7,570.4 745.2,569.3 746.8,568.0 748.3,566.7 749.8,565.4 751.3,564.0 752.8,562.5 754.3,561.1 755.8,559.6 757.3,558.1 758.7,556.6 760.1,555.0 761.5,553.5 762.8,552.0 764.1,550.5 765.4,549.1 767.7,546.2 769.8,543.4 771.7,540.7 773.5,537.9 775.1,535.2 776.7,532.4 778.3,529.4 779.9,526.4 781.4,523.3 782.9,520.1 784.3,516.8 785.7,513.5 787.0,510.1 788.2,506.6 789.4,503.1 790.5,499.6 791.6,496.1 792.6,492.5 793.6,488.8 794.6,485.0 795.4,481.3 796.2,477.6 796.9,474.0 797.5,470.6 798.0,467.4 798.3,464.2 798.6,461.2 798.8,458.2 798.9,455.3 798.9,452.4 798.9,449.5 798.8,446.7 798.7,444.0 798.6,441.4 798.4,439.0 798.2,436.7 797.9,434.5 797.6,432.2 797.1,429.7 796.5,427.1 795.9,424.2 795.1,421.1 794.2,417.7 793.2,413.7 792.8,408.9 792.9,406.3 793.1,404.7 793.0,403.2 792.2,402.0 789.4,399.4 786.8,395.9 784.9,392.6 783.4,389.7 781.9,386.9 780.2,384.0 778.3,380.7 777.3,379.0 776.2,377.2 774.9,375.2 773.6,373.2 772.3,371.0 770.8,368.8 769.3,366.4 767.8,364.0 766.2,361.6 764.6,359.1 762.9,356.5 761.2,354.0 759.4,351.4 757.6,348.9 755.8,346.3 754.0,343.8 752.2,341.4 750.4,339.0 748.5,336.6 746.6,334.3 744.6,331.9 742.5,329.5 740.3,327.0 738.1,324.5 735.8,322.1 733.5,319.6 731.3,317.2 729.0,314.8 726.7,312.4 724.5,310.1 722.4,307.9 720.3,305.8 718.4,303.8 716.5,301.9 714.8,300.1 713.2,298.5 710.4,295.6 708.0,293.2 705.8,291.1 703.9,289.2 701.9,287.4 699.8,285.6 697.5,283.7 694.9,281.6 692.0,279.4 689.0,277.2 685.9,275.0 682.7,272.7 679.5,270.5 676.3,268.3 673.1,266.2 670.0,264.1 666.8,262.0 663.7,260.0 660.5,257.9 657.3,255.9 654.1,254.0 651.1,252.0 648.1,250.1 645.2,248.3 642.6,246.6 640.3,245.0 638.0,243.4 635.8,241.9 633.5,240.4 631.1,238.9 628.4,237.3 625.2,235.5 621.8,233.5 620.0,232.5 618.2,231.4 616.3,230.4 614.5,229.3 612.6,228.3 610.7,227.2 608.7,226.2 606.7,225.2 604.7,224.3 602.6,223.3 600.5,222.4 598.4,221.6 596.3,220.8 594.0,220.1 591.6,219.4 589.2,218.7 586.7,218.0 584.2,217.4 581.6,216.7 578.9,216.1 576.0,215.4 572.7,214.5 569.2,213.1 565.9,211.2 563.7,209.8 562.9,209.5 562.1,209.6 559.5,210.2 555.7,210.8 551.7,210.8 548.1,210.5 545.0,210.0 541.9,209.6 538.9,209.2 535.8,208.9 532.8,208.5 529.7,208.1 526.6,207.8 523.5,207.5 520.4,207.2 517.3,206.9 514.3,206.6 511.2,206.4 508.2,206.1 505.3,205.9 502.3,205.7 499.4,205.4 496.5,205.2 493.6,205.0 490.8,204.8 488.0,204.6 485.2,204.4 482.3,204.3 479.6,204.2 476.8,204.1 474.0,204.0 471.2,203.9 468.5,203.9 465.7,203.8 462.9,203.9 460.1,203.9 457.3,203.9 454.5,204.0 451.7,204.1 448.8,204.2 446.0,204.3 443.2,204.5 440.4,204.7 437.6,204.8 434.8,205.1 432.0,205.3 429.2,205.6 426.5,205.9 423.7,206.2 420.9,206.6 418.1,207.0 415.3,207.4 412.5,207.9 409.8,208.3 407.0,208.9 404.2,209.4 401.4,210.0 398.6,210.6 395.8,211.2 393.0,211.9 390.2,212.6 387.4,213.3 384.6,214.0 381.8,214.8 379.0,215.6 376.2,216.4 373.4,217.3 370.6,218.2 367.8,219.1 364.9,220.1 362.1,221.0 359.3,221.9 356.5,222.9 353.7,223.9 350.9,224.9 348.1,226.0 345.3,227.1 342.5,228.2 339.7,229.4 336.9,230.7 334.1,232.0 331.3,233.3 328.5,234.7 325.6,236.2 322.7,237.8 319.7,239.5 316.6,241.3 313.5,243.2 310.3,245.2 307.1,247.3 303.9,249.4 300.7,251.5 297.3,253.8 293.2,256.3 288.0,258.4 283.7,259.1 283.2,259.2 283.0,259.5 281.3,262.8 278.2,266.7 275.1,269.5 272.5,271.5 270.3,273.2 268.2,274.8 266.3,276.3 264.4,277.8 262.6,279.3 260.8,280.8 259.0,282.3 257.3,283.9 255.5,285.4 253.8,287.1 251.9,288.7 250.1,290.5 248.1,292.4 246.1,294.3 244.0,296.3 241.8,298.4 239.7,300.5 237.5,302.7 235.3,304.9 233.1,307.2 230.9,309.4 228.7,311.8 226.5,314.1 224.3,316.5 222.1,318.9 219.9,321.4 217.7,323.9 215.5,326.4 213.4,328.9 211.3,331.5 209.2,334.1 207.1,336.8 205.0,339.4 202.9,342.0 200.9,344.7 198.8,347.3 196.8,350.1 194.8,352.8 192.8,355.6 190.8,358.5 188.8,361.4 186.7,364.5 184.7,367.6 182.6,370.8 180.6,374.1 178.5,377.5 176.4,381.1 174.2,384.8 172.0,388.7 169.7,392.8 167.4,396.9 165.1,401.1 162.8,405.4 160.5,409.7 158.3,414.0 156.0,418.4 153.9,422.7 151.7,427.0 149.7,431.3 147.7,435.5 145.8,439.6 144.0,443.6 142.3,447.4 140.7,451.2 139.1,454.9 137.7,458.5 136.2,462.0 134.9,465.6 133.6,469.1 132.3,472.6 131.1,476.2 129.8,479.8 128.6,483.5 127.4,487.2 126.2,491.1 124.9,495.1 123.7,499.2 122.4,503.5 121.1,508.0 119.7,512.9 118.3,518.2 116.9,523.7 115.4,529.4 114.0,535.2 112.5,541.1 111.1,546.9 109.8,552.5 108.5,558.0 107.2,563.3 106.1,568.2 105.0,572.7 104.0,576.7 103.2,580.2 104.2,576.3 Z" fill="#e62c28" fill-rule="evenodd"/>
<path d="M87.6,584.0 89.3,576.9 90.1,573.4 91.1,569.4 92.1,564.9 93.3,560.0 94.5,554.7 95.9,549.2 97.2,543.5 98.6,537.7 100.1,531.8 101.5,525.9 103.0,520.2 104.5,514.6 105.9,509.2 107.3,504.1 108.7,499.4 110.0,495.1 111.3,490.9 112.5,486.8 113.8,482.9 115.0,479.0 116.3,475.2 117.5,471.5 118.8,467.8 120.2,464.2 121.5,460.5 122.9,456.9 124.4,453.2 125.9,449.4 127.5,445.6 129.2,441.7 130.9,437.7 132.8,433.6 134.7,429.4 136.8,425.1 138.9,420.8 141.1,416.4 143.3,411.9 145.6,407.5 147.9,403.0 150.2,398.6 152.5,394.3 154.9,390.0 157.2,385.8 159.5,381.7 161.8,377.7 164.0,373.8 166.2,370.1 168.4,366.6 170.6,363.1 172.7,359.8 174.8,356.6 176.9,353.4 179.0,350.3 181.1,347.4 183.2,344.4 185.3,341.6 187.4,338.7 189.5,336.0 191.6,333.2 193.8,330.5 195.9,327.8 198.0,325.2 200.2,322.5 202.4,319.8 204.6,317.2 206.9,314.5 209.2,311.9 211.4,309.4 213.7,306.9 216.0,304.4 218.3,301.9 220.6,299.5 222.9,297.2 225.1,294.9 227.4,292.6 229.6,290.4 231.8,288.2 234.0,286.1 236.2,284.0 238.2,282.0 240.2,280.1 242.2,278.3 244.1,276.5 246.0,274.8 247.8,273.2 249.7,271.5 251.5,269.9 253.4,268.3 255.4,266.7 257.4,265.1 259.4,263.5 261.6,261.8 263.8,260.2 265.9,258.5 267.7,256.9 269.2,255.0 271.0,251.7 274.6,247.1 280.2,245.1 284.2,244.5 286.8,243.5 289.6,241.7 292.8,239.6 296.1,237.4 299.4,235.2 302.7,233.1 306.0,231.0 309.3,229.0 312.6,227.1 315.8,225.3 318.9,223.6 322.0,222.0 325.0,220.5 328.1,219.1 331.1,217.7 334.1,216.4 337.1,215.1 340.1,213.9 343.0,212.8 346.0,211.7 348.9,210.6 351.8,209.6 354.7,208.6 357.6,207.7 360.6,206.7 363.5,205.8 366.4,204.9 369.3,203.9 372.2,203.1 375.2,202.2 378.1,201.4 381.0,200.6 383.9,199.8 386.9,199.1 389.8,198.4 392.7,197.7 395.6,197.0 398.6,196.4 401.5,195.8 404.4,195.3 407.3,194.7 410.2,194.2 413.2,193.8 416.1,193.3 419.0,192.9 422.0,192.5 424.9,192.2 427.8,191.9 430.8,191.6 433.7,191.3 436.6,191.1 439.5,190.9 442.4,190.7 445.4,190.5 448.3,190.4 451.2,190.3 454.1,190.2 457.0,190.2 459.9,190.1 462.8,190.1 465.8,190.1 468.7,190.2 471.6,190.2 474.4,190.3 477.3,190.5 480.2,190.6 483.1,190.8 486.0,190.9 488.9,191.2 491.8,191.4 494.7,191.6 497.6,191.9 500.5,192.1 503.5,192.4 506.5,192.7 509.5,193.0 512.5,193.3 515.6,193.7 518.7,194.1 521.8,194.4 524.9,194.8 528.1,195.3 531.2,195.7 534.4,196.1 537.5,196.6 540.6,197.1 543.7,197.6 546.8,198.1 549.7,198.6 552.4,198.9 554.8,199.0 557.5,198.7 560.9,198.0 565.2,198.1 569.0,199.7 571.9,201.7 574.2,203.1 576.4,204.1 578.9,204.9 581.5,205.6 584.2,206.4 586.9,207.2 589.6,208.0 592.2,208.8 594.7,209.6 597.2,210.5 599.7,211.4 602.1,212.3 604.4,213.3 606.7,214.3 608.9,215.4 611.1,216.5 613.2,217.6 615.3,218.7 617.3,219.8 619.3,221.0 621.2,222.1 623.0,223.2 624.8,224.3 626.6,225.4 629.9,227.4 633.1,229.3 636.0,231.0 638.6,232.7 641.0,234.2 643.2,235.8 645.5,237.3 647.8,238.9 650.3,240.6 653.0,242.4 656.0,244.2 659.0,246.2 662.2,248.1 665.4,250.2 668.6,252.2 671.9,254.3 675.1,256.4 678.3,258.6 681.4,260.8 684.7,263.1 687.9,265.4 691.2,267.7 694.3,270.0 697.4,272.3 700.4,274.7 703.1,276.9 705.5,279.0 707.7,280.9 709.8,282.8 711.9,284.8 714.1,287.0 716.5,289.5 719.4,292.5 720.9,294.1 722.7,295.9 724.5,297.8 726.5,299.9 728.5,302.0 730.7,304.3 732.9,306.6 735.1,309.0 737.4,311.4 739.7,313.9 742.0,316.4 744.3,318.9 746.6,321.4 748.8,324.0 750.9,326.5 753.0,329.0 755.0,331.4 756.9,333.8 758.9,336.3 760.8,338.8 762.7,341.4 764.5,344.0 766.4,346.6 768.2,349.2 770.0,351.8 771.7,354.3 773.4,356.8 775.0,359.3 776.6,361.7 778.2,364.0 779.6,366.3 781.0,368.4 782.4,370.5 783.6,372.4 784.8,374.3 786.0,376.0 788.0,379.3 789.9,382.3 791.6,385.2 793.2,387.9 794.8,390.5 796.6,392.8 799.6,395.4 802.6,399.5 803.2,404.6 803.1,406.9 803.0,408.6 803.5,411.8 804.3,415.0 805.3,418.3 806.3,421.5 807.1,424.6 807.8,427.4 808.3,430.2 808.8,432.8 809.2,435.4 809.5,438.0 809.8,440.6 810.0,443.4 810.1,446.3 810.2,449.3 810.3,452.3 810.3,455.5 810.2,458.7 810.0,462.0 809.7,465.4 809.3,468.8 808.8,472.4 808.2,476.1 807.4,479.9 806.6,483.8 805.6,487.7 804.6,491.6 803.6,495.5 802.4,499.3 801.3,503.0 800.1,506.7 798.8,510.4 797.4,514.0 796.0,517.6 794.5,521.2 792.9,524.6 791.3,528.1 789.7,531.4 788.0,534.6 786.3,537.7 784.5,540.7 782.6,543.8 780.7,546.8 778.5,549.8 776.2,552.9 773.7,555.9 772.4,557.5 771.0,559.1 769.6,560.7 768.1,562.3 766.6,563.9 765.1,565.6 763.5,567.2 761.9,568.8 760.3,570.3 758.7,571.9 757.0,573.4 755.4,574.9 753.7,576.3 752.0,577.7 750.3,579.0 748.6,580.3 746.8,581.6 745.0,582.8 743.2,583.9 741.4,585.0 739.6,586.1 737.7,587.1 735.9,588.1 734.1,589.1 732.3,590.0 730.5,590.9 727.0,592.8 723.6,594.6 720.3,596.5 717.1,598.3 714.0,600.1 710.9,601.9 707.8,603.6 704.8,605.4 702.1,607.0 700.0,608.7 698.2,611.2 697.2,613.1 693.6,617.4 688.2,618.7 685.7,618.8 684.2,618.9 681.4,619.7 678.5,621.0 675.3,622.6 671.7,624.2 667.8,625.6 665.8,626.3 663.7,626.9 661.6,627.5 659.5,628.0 657.4,628.6 655.4,629.1 653.3,629.5 651.3,630.0 647.6,630.9 644.2,631.7 641.5,632.6 639.6,633.3 638.1,634.0 636.3,635.2 633.7,636.6 631.0,637.6 627.4,638.7 625.2,639.4 622.9,640.1 620.3,640.9 617.6,641.7 614.7,642.5 611.6,643.4 608.4,644.3 605.1,645.2 601.7,646.1 598.2,647.0 594.6,647.9 590.9,648.8 587.3,649.7 583.5,650.6 579.8,651.4 576.0,652.2 572.2,653.0 568.3,653.7 564.3,654.5 560.1,655.3 555.9,656.0 551.5,656.8 547.2,657.5 542.8,658.2 538.4,658.9 534.0,659.6 529.6,660.3 525.2,660.9 520.9,661.5 516.7,662.0 512.6,662.5 508.6,663.0 504.7,663.4 501.0,663.7 497.4,664.0 493.8,664.3 490.4,664.5 487.0,664.7 483.6,664.9 480.2,665.0 476.8,665.1 473.3,665.2 469.8,665.3 466.1,665.4 462.4,665.4 458.4,665.5 454.3,665.5 450.0,665.5 445.4,665.5 440.5,665.5 435.4,665.4 430.1,665.4 424.6,665.3 419.0,665.2 413.4,665.1 407.7,665.0 402.0,664.8 396.4,664.7 390.9,664.5 385.6,664.3 380.5,664.1 375.6,663.9 371.0,663.7 366.7,663.5 362.8,663.3 359.2,663.1 355.8,662.9 352.7,662.6 349.8,662.4 347.0,662.2 344.3,661.9 341.8,661.7 339.4,661.5 337.4,661.4 335.7,661.5 333.6,662.1 330.2,663.5 324.8,664.1 319.8,661.7 316.7,659.2 314.3,657.9 311.5,657.2 307.9,656.5 304.0,655.8 299.9,655.0 295.8,654.2 291.6,653.4 287.4,652.5 283.2,651.6 278.9,650.8 274.7,649.9 270.6,649.0 266.5,648.0 262.5,647.1 258.5,646.2 254.7,645.4 251.0,644.5 247.4,643.6 243.8,642.7 240.3,641.8 236.8,640.9 233.4,640.0 229.9,639.1 226.5,638.2 223.2,637.2 219.8,636.3 216.4,635.3 213.1,634.4 209.7,633.4 206.3,632.3 202.9,631.3 199.4,630.3 195.9,629.2 192.4,628.1 188.9,627.0 185.3,625.9 181.7,624.8 178.2,623.7 174.6,622.5 171.0,621.4 167.4,620.2 163.9,619.0 160.3,617.7 156.8,616.5 153.3,615.2 149.8,613.9 146.3,612.5 142.9,611.1 139.4,609.7 135.8,608.1 132.1,606.4 128.3,604.6 124.6,602.8 120.8,600.9 117.1,599.1 113.5,597.3 110.0,595.5 106.6,593.7 103.4,592.1 100.5,590.6 97.8,589.2 95.4,587.9 93.3,586.8 Z M98.3,576.9 100.4,578.0 102.9,579.3 105.6,580.7 108.6,582.2 111.7,583.9 115.0,585.6 118.5,587.4 122.1,589.2 125.7,591.0 129.4,592.8 133.1,594.6 136.7,596.3 140.3,597.9 143.8,599.5 147.1,600.9 150.4,602.2 153.8,603.5 157.1,604.8 160.6,606.1 164.0,607.3 167.5,608.5 171.0,609.7 174.5,610.9 178.0,612.0 181.5,613.2 185.1,614.3 188.6,615.4 192.1,616.5 195.6,617.6 199.1,618.7 202.6,619.7 206.0,620.8 209.4,621.8 212.8,622.8 216.2,623.8 219.5,624.8 222.8,625.7 226.1,626.6 229.5,627.6 232.8,628.5 236.2,629.4 239.6,630.3 243.0,631.2 246.5,632.0 250.0,632.9 253.6,633.8 257.3,634.6 261.0,635.5 264.9,636.4 268.9,637.3 272.9,638.2 277.1,639.1 281.2,640.0 285.4,640.9 289.6,641.7 293.8,642.6 297.9,643.4 302.0,644.2 306.0,645.0 309.9,645.7 314.0,646.5 318.4,647.7 322.8,650.0 325.7,652.4 326.7,652.8 327.5,652.7 330.0,651.7 333.6,650.7 337.1,650.3 340.2,650.5 342.8,650.7 345.4,651.0 348.0,651.2 350.7,651.4 353.5,651.7 356.6,651.9 359.9,652.1 363.4,652.3 367.3,652.5 371.5,652.7 376.1,652.9 380.9,653.1 386.0,653.3 391.3,653.5 396.7,653.7 402.3,653.8 407.9,654.0 413.6,654.1 419.2,654.2 424.8,654.3 430.2,654.4 435.5,654.4 440.6,654.5 445.4,654.5 450.0,654.5 454.3,654.5 458.3,654.5 462.2,654.4 466.0,654.4 469.6,654.3 473.0,654.2 476.4,654.2 479.8,654.0 483.1,653.9 486.4,653.7 489.7,653.5 493.1,653.3 496.5,653.0 500.0,652.7 503.6,652.4 507.4,652.0 511.4,651.6 515.4,651.2 519.5,650.6 523.8,650.1 528.0,649.5 532.4,648.9 536.7,648.2 541.1,647.6 545.4,646.9 549.8,646.2 554.0,645.5 558.2,644.7 562.3,644.0 566.3,643.3 570.2,642.5 574.0,641.8 577.6,641.1 581.3,640.3 584.9,639.5 588.5,638.7 592.1,637.8 595.7,637.0 599.1,636.1 602.5,635.3 605.8,634.4 608.9,633.6 612.0,632.8 614.9,632.0 617.6,631.2 620.1,630.5 622.5,629.9 624.6,629.3 627.8,628.3 629.7,627.6 631.4,626.8 633.3,625.6 635.9,624.3 638.5,623.4 641.8,622.5 645.4,621.7 649.3,620.8 651.2,620.4 653.3,619.9 655.3,619.5 657.3,619.0 659.3,618.5 661.2,618.0 663.1,617.5 664.9,617.0 668.3,615.8 671.5,614.4 674.7,612.9 678.4,611.2 682.8,610.1 685.3,610.0 687.0,610.0 688.8,609.6 690.0,608.2 690.9,606.5 693.8,602.7 697.3,600.0 700.6,598.0 703.7,596.3 706.8,594.6 709.9,592.9 713.1,591.2 716.4,589.4 719.7,587.5 723.3,585.7 726.8,583.9 728.6,583.0 730.4,582.1 732.2,581.2 734.0,580.2 735.8,579.3 737.5,578.3 739.2,577.3 740.9,576.3 742.5,575.2 744.1,574.1 745.7,573.0 747.2,571.8 748.8,570.5 750.4,569.1 751.9,567.7 753.5,566.3 755.1,564.8 756.6,563.4 758.1,561.8 759.6,560.3 761.1,558.8 762.5,557.2 763.9,555.7 765.2,554.1 766.6,552.6 767.8,551.1 770.2,548.2 772.3,545.3 774.3,542.5 776.2,539.7 777.9,536.8 779.5,533.9 781.1,530.9 782.7,527.8 784.3,524.7 785.8,521.4 787.2,518.1 788.6,514.7 790.0,511.2 791.2,507.7 792.4,504.1 793.6,500.6 794.7,497.0 795.7,493.3 796.7,489.6 797.7,485.8 798.6,482.0 799.4,478.2 800.1,474.6 800.6,471.1 801.1,467.8 801.5,464.5 801.8,461.4 802.0,458.3 802.1,455.3 802.1,452.4 802.1,449.5 802.0,446.6 801.9,443.8 801.8,441.2 801.6,438.7 801.4,436.3 801.1,434.0 800.7,431.6 800.2,429.1 799.6,426.4 799.0,423.4 798.2,420.3 797.3,416.9 796.4,413.1 796.0,408.8 796.1,406.5 796.3,404.7 796.1,402.0 794.6,399.9 791.8,397.2 789.4,394.1 787.7,391.0 786.2,388.2 784.7,385.3 783.0,382.3 781.0,379.1 780.0,377.3 778.9,375.5 777.6,373.5 776.3,371.4 775.0,369.3 773.5,367.0 772.0,364.7 770.5,362.3 768.9,359.8 767.2,357.3 765.5,354.7 763.8,352.2 762.0,349.6 760.2,347.0 758.4,344.5 756.6,341.9 754.7,339.4 752.9,337.0 751.0,334.6 749.1,332.2 747.0,329.8 744.9,327.4 742.7,324.9 740.5,322.4 738.2,319.9 735.9,317.4 733.6,315.0 731.3,312.6 729.0,310.2 726.8,307.9 724.7,305.7 722.6,303.6 720.7,301.6 718.8,299.7 717.1,297.9 715.5,296.2 712.7,293.3 710.2,290.9 708.1,288.8 706.0,286.9 704.0,285.1 701.9,283.2 699.5,281.2 696.8,279.1 694.0,276.9 690.9,274.6 687.8,272.4 684.6,270.1 681.3,267.9 678.1,265.7 674.9,263.5 671.8,261.4 668.6,259.3 665.4,257.3 662.2,255.2 659.0,253.2 655.8,251.3 652.8,249.3 649.8,247.4 647.0,245.6 644.4,243.9 642.1,242.3 639.8,240.8 637.6,239.3 635.3,237.8 632.8,236.2 630.0,234.5 626.8,232.7 623.4,230.7 621.6,229.7 619.8,228.7 618.0,227.6 616.1,226.5 614.1,225.5 612.2,224.4 610.2,223.4 608.1,222.4 606.1,221.4 603.9,220.4 601.8,219.5 599.6,218.6 597.3,217.8 595.0,217.0 592.6,216.3 590.1,215.6 587.6,214.9 585.0,214.3 582.4,213.6 579.7,213.0 576.8,212.3 573.8,211.5 570.6,210.2 567.6,208.5 565.2,207.0 563.5,206.3 561.8,206.4 558.9,207.0 555.4,207.6 551.9,207.6 548.6,207.3 545.5,206.9 542.4,206.5 539.4,206.1 536.3,205.7 533.2,205.3 530.1,205.0 527.0,204.6 523.9,204.3 520.7,204.0 517.7,203.7 514.6,203.5 511.5,203.2 508.5,203.0 505.5,202.7 502.6,202.5 499.7,202.2 496.8,202.0 493.9,201.8 491.0,201.6 488.2,201.4 485.3,201.2 482.5,201.1 479.7,201.0 476.9,200.9 474.1,200.8 471.3,200.7 468.5,200.7 465.7,200.6 462.9,200.7 460.1,200.7 457.2,200.7 454.4,200.8 451.6,200.9 448.7,201.0 445.9,201.1 443.1,201.3 440.2,201.5 437.4,201.7 434.6,201.9 431.7,202.1 428.9,202.4 426.1,202.7 423.3,203.0 420.5,203.4 417.6,203.8 414.8,204.2 412.0,204.7 409.2,205.2 406.4,205.7 403.6,206.3 400.7,206.9 397.9,207.5 395.1,208.1 392.3,208.8 389.5,209.5 386.6,210.2 383.8,210.9 381.0,211.7 378.2,212.5 375.3,213.4 372.5,214.2 369.6,215.1 366.8,216.1 363.9,217.0 361.1,218.0 358.2,218.9 355.4,219.9 352.6,220.9 349.7,221.9 346.9,223.0 344.1,224.1 341.3,225.3 338.4,226.5 335.6,227.7 332.7,229.1 329.9,230.4 327.0,231.9 324.1,233.4 321.2,235.0 318.1,236.7 315.0,238.6 311.8,240.5 308.6,242.5 305.4,244.6 302.2,246.7 298.9,248.8 295.6,251.1 291.8,253.4 287.1,255.3 282.9,256.0 281.3,256.5 280.3,257.7 278.6,261.1 275.9,264.5 273.0,267.0 270.6,269.0 268.3,270.6 266.3,272.3 264.3,273.8 262.4,275.4 260.5,276.9 258.7,278.4 256.9,279.9 255.2,281.5 253.4,283.1 251.6,284.7 249.8,286.4 247.9,288.2 245.9,290.0 243.8,292.0 241.7,294.0 239.6,296.1 237.4,298.3 235.3,300.4 233.1,302.7 230.8,304.9 228.6,307.2 226.4,309.6 224.1,311.9 221.9,314.4 219.7,316.8 217.5,319.3 215.3,321.8 213.1,324.3 210.9,326.9 208.8,329.5 206.7,332.1 204.6,334.8 202.5,337.4 200.4,340.1 198.3,342.7 196.3,345.4 194.2,348.2 192.2,350.9 190.2,353.8 188.1,356.7 186.1,359.6 184.1,362.7 182.0,365.8 179.9,369.1 177.9,372.4 175.8,375.9 173.6,379.5 171.4,383.2 169.2,387.2 166.9,391.2 164.6,395.3 162.3,399.6 160.0,403.9 157.7,408.2 155.4,412.6 153.2,416.9 151.0,421.3 148.9,425.6 146.8,429.9 144.8,434.1 142.9,438.2 141.1,442.3 139.4,446.2 137.7,449.9 136.2,453.7 134.7,457.3 133.3,460.9 131.9,464.4 130.6,468.0 129.3,471.6 128.0,475.1 126.8,478.8 125.6,482.5 124.3,486.2 123.1,490.1 121.9,494.1 120.6,498.3 119.3,502.6 118.0,507.1 116.6,512.1 115.2,517.4 113.8,522.9 112.3,528.6 110.9,534.5 109.4,540.3 108.0,546.1 106.7,551.8 105.3,557.3 104.1,562.5 102.9,567.5 101.9,572.0 100.9,576.0 100.1,579.5 100.4,578.0 Z" fill="#e98b22" fill-rule="evenodd"/>
<path d="M675.5,600 L677.5,609 Q679.5,618 685.5,618.5 Q691,618 691.5,609 L692,598" fill="#b59f04" stroke="#e4302a" stroke-width="3"/>
<path d="M318.5,641 L320,649 Q321.5,655.5 326,655.5 Q331,655.5 331.5,649 L332,641" fill="#b59f04" stroke="#e4302a" stroke-width="3"/>
<line x1="716.8" y1="750.6" x2="752.7" y2="785.3" stroke="#f0a228" stroke-width="2.6"/>
<circle cx="370.8" cy="158.5" r="4.8" fill="#e6a3ac" stroke="#d95a5e" stroke-width="2.4"/>
<circle cx="499.6" cy="160.0" r="4.8" fill="#e6a3ac" stroke="#d95a5e" stroke-width="2.4"/>
<circle cx="580.9" cy="185.2" r="4.8" fill="#e6a3ac" stroke="#d95a5e" stroke-width="2.4"/>
<circle cx="284.3" cy="190.0" r="4.8" fill="#e6a3ac" stroke="#d95a5e" stroke-width="2.4"/>
<circle cx="228.6" cy="233.7" r="4.8" fill="#e6a3ac" stroke="#d95a5e" stroke-width="2.4"/>
<circle cx="166.3" cy="254.9" r="4.8" fill="#e6a3ac" stroke="#d95a5e" stroke-width="2.4"/>
<circle cx="102.9" cy="428.6" r="4.8" fill="#e6a3ac" stroke="#d95a5e" stroke-width="2.4"/>
<circle cx="136.6" cy="634.6" r="4.8" fill="#e6a3ac" stroke="#d95a5e" stroke-width="2.4"/>
<circle cx="124.3" cy="675.7" r="4.8" fill="#e6a3ac" stroke="#d95a5e" stroke-width="2.4"/>
<circle cx="202.0" cy="662.5" r="4.8" fill="#e6a3ac" stroke="#d95a5e" stroke-width="2.4"/>
<circle cx="165.4" cy="719.4" r="4.8" fill="#e6a3ac" stroke="#d95a5e" stroke-width="2.4"/>
<circle cx="340.0" cy="687.7" r="4.8" fill="#e6a3ac" stroke="#d95a5e" stroke-width="2.4"/>
<circle cx="279.1" cy="704.0" r="4.8" fill="#e6a3ac" stroke="#d95a5e" stroke-width="2.4"/>
<circle cx="279.1" cy="732.9" r="4.8" fill="#e6a3ac" stroke="#d95a5e" stroke-width="2.4"/>
<circle cx="214.9" cy="745.1" r="4.8" fill="#e6a3ac" stroke="#d95a5e" stroke-width="2.4"/>
<circle cx="354.9" cy="756.3" r="4.8" fill="#e6a3ac" stroke="#d95a5e" stroke-width="2.4"/>
<circle cx="327.1" cy="789.1" r="4.8" fill="#e6a3ac" stroke="#d95a5e" stroke-width="2.4"/>
<circle cx="413.7" cy="791.7" r="4.8" fill="#e6a3ac" stroke="#d95a5e" stroke-width="2.4"/>
<circle cx="154.3" cy="810.6" r="4.8" fill="#e6a3ac" stroke="#d95a5e" stroke-width="2.4"/>
<circle cx="306.9" cy="817.7" r="4.8" fill="#e6a3ac" stroke="#d95a5e" stroke-width="2.4"/>
<circle cx="233.7" cy="832.0" r="4.8" fill="#e6a3ac" stroke="#d95a5e" stroke-width="2.4"/>
<circle cx="250.6" cy="880.0" r="4.8" fill="#e6a3ac" stroke="#d95a5e" stroke-width="2.4"/>
<circle cx="332.6" cy="879.7" r="4.8" fill="#e6a3ac" stroke="#d95a5e" stroke-width="2.4"/>
<circle cx="576.0" cy="680.9" r="4.8" fill="#e6a3ac" stroke="#d95a5e" stroke-width="2.4"/>
<circle cx="664.0" cy="691.7" r="4.8" fill="#e6a3ac" stroke="#d95a5e" stroke-width="2.4"/>
<circle cx="514.3" cy="700.0" r="4.8" fill="#e6a3ac" stroke="#d95a5e" stroke-width="2.4"/>
<circle cx="444.9" cy="724.6" r="4.8" fill="#e6a3ac" stroke="#d95a5e" stroke-width="2.4"/>
<circle cx="652.3" cy="752.3" r="4.8" fill="#e6a3ac" stroke="#d95a5e" stroke-width="2.4"/>
<circle cx="470.6" cy="767.4" r="4.8" fill="#e6a3ac" stroke="#d95a5e" stroke-width="2.4"/>
<circle cx="595.1" cy="779.4" r="4.8" fill="#e6a3ac" stroke="#d95a5e" stroke-width="2.4"/>
<circle cx="492.3" cy="805.7" r="4.8" fill="#e6a3ac" stroke="#d95a5e" stroke-width="2.4"/>
<circle cx="640.0" cy="838.0" r="4.8" fill="#e6a3ac" stroke="#d95a5e" stroke-width="2.4"/>
<circle cx="690.0" cy="853.4" r="4.8" fill="#e6a3ac" stroke="#d95a5e" stroke-width="2.4"/>
<circle cx="535.4" cy="848.6" r="4.8" fill="#e6a3ac" stroke="#d95a5e" stroke-width="2.4"/>
<circle cx="482.0" cy="888.0" r="4.8" fill="#e6a3ac" stroke="#d95a5e" stroke-width="2.4"/>
<circle cx="594.3" cy="880.0" r="4.8" fill="#e6a3ac" stroke="#d95a5e" stroke-width="2.4"/>
<circle cx="501.4" cy="927.4" r="4.8" fill="#e6a3ac" stroke="#d95a5e" stroke-width="2.4"/>
<circle cx="811.0" cy="582.6" r="4.8" fill="#e6a3ac" stroke="#d95a5e" stroke-width="2.4"/>
<circle cx="762.6" cy="639.6" r="4.8" fill="#e6a3ac" stroke="#d95a5e" stroke-width="2.4"/>
<circle cx="817.9" cy="647.0" r="4.8" fill="#e6a3ac" stroke="#d95a5e" stroke-width="2.4"/>
<circle cx="759.7" cy="671.3" r="4.8" fill="#e6a3ac" stroke="#d95a5e" stroke-width="2.4"/>
<circle cx="724.2" cy="710.2" r="4.8" fill="#e6a3ac" stroke="#d95a5e" stroke-width="2.4"/>
<circle cx="781.2" cy="730.3" r="4.8" fill="#e6a3ac" stroke="#d95a5e" stroke-width="2.4"/>
<circle cx="721.8" cy="784.0" r="4.8" fill="#e6a3ac" stroke="#d95a5e" stroke-width="2.4"/>
<circle cx="175.7" cy="295.7" r="6.2" fill="#d9605c"/>
<circle cx="415.4" cy="877.4" r="6.2" fill="#d9605c"/>
<circle cx="395.1" cy="923.7" r="6.2" fill="#d9605c"/>
<circle cx="556.3" cy="800.0" r="6.2" fill="#d9605c"/>
<circle cx="674.9" cy="805.4" r="6.2" fill="#d9605c"/>
<circle cx="50.6" cy="487.0" r="6" fill="#ffffff"/>
<circle cx="63.7" cy="570.6" r="6" fill="#ffffff"/>
<ellipse cx="103.7" cy="380.0" rx="10" ry="12.5" transform="rotate(22 103.7 380.0)" fill="#f28a26"/>
<ellipse cx="100.7" cy="379.2" rx="5.6" ry="7.6" transform="rotate(18 100.7 379.2)" fill="#fff00a"/>
<ellipse cx="72.9" cy="528.0" rx="10" ry="12.5" transform="rotate(22 72.9 528.0)" fill="#f28a26"/>
<ellipse cx="75.9" cy="525.0" rx="5.6" ry="7.6" transform="rotate(18 75.9 525.0)" fill="#fff00a"/>
<ellipse cx="78.6" cy="635.7" rx="10" ry="12.5" transform="rotate(22 78.6 635.7)" fill="#f28a26"/>
<ellipse cx="76.1" cy="633.7" rx="5.6" ry="7.6" transform="rotate(18 76.1 633.7)" fill="#fff00a"/>
<ellipse cx="185.7" cy="673.5" rx="10" ry="12.5" transform="rotate(22 185.7 673.5)" fill="#f28a26"/>
<ellipse cx="188.7" cy="672.0" rx="5.6" ry="7.6" transform="rotate(18 188.7 672.0)" fill="#fff00a"/>
<ellipse cx="400.0" cy="712.3" rx="10" ry="12.5" transform="rotate(22 400.0 712.3)" fill="#f28a26"/>
<ellipse cx="397.0" cy="710.3" rx="5.6" ry="7.6" transform="rotate(18 397.0 710.3)" fill="#fff00a"/>
<ellipse cx="283.0" cy="773.0" rx="10" ry="12.5" transform="rotate(22 283.0 773.0)" fill="#f28a26"/>
<ellipse cx="285.7" cy="768.0" rx="5.6" ry="7.6" transform="rotate(18 285.7 768.0)" fill="#fff00a"/>
<ellipse cx="380.6" cy="845.0" rx="10" ry="12.5" transform="rotate(22 380.6 845.0)" fill="#f28a26"/>
<ellipse cx="383.6" cy="842.0" rx="5.6" ry="7.6" transform="rotate(18 383.6 842.0)" fill="#fff00a"/>
<ellipse cx="507.0" cy="773.0" rx="10" ry="12.5" transform="rotate(22 507.0 773.0)" fill="#f28a26"/>
<ellipse cx="503.2" cy="772.3" rx="5.6" ry="7.6" transform="rotate(18 503.2 772.3)" fill="#fff00a"/>
<ellipse cx="611.4" cy="703.0" rx="10" ry="12.5" transform="rotate(22 611.4 703.0)" fill="#f28a26"/>
<ellipse cx="608.4" cy="700.0" rx="5.6" ry="7.6" transform="rotate(18 608.4 700.0)" fill="#fff00a"/>
<ellipse cx="590.0" cy="850.0" rx="10" ry="12.5" transform="rotate(22 590.0 850.0)" fill="#f28a26"/>
<ellipse cx="590.0" cy="846.0" rx="5.6" ry="7.6" transform="rotate(18 590.0 846.0)" fill="#fff00a"/>
<ellipse cx="783.0" cy="604.4" rx="10" ry="12.5" transform="rotate(22 783.0 604.4)" fill="#f28a26"/>
<ellipse cx="779.4" cy="607.5" rx="5.6" ry="7.6" transform="rotate(18 779.4 607.5)" fill="#fff00a"/>
<ellipse cx="712.6" cy="742.7" rx="10" ry="12.5" transform="rotate(22 712.6 742.7)" fill="#f28a26"/>
<ellipse cx="710.1" cy="740.7" rx="5.6" ry="7.6" transform="rotate(18 710.1 740.7)" fill="#fff00a"/>
<g transform="translate(435,171)"><ellipse cx="0.3" cy="0" rx="11" ry="9.8" fill="#f28a26"/><ellipse cx="6.5" cy="1.2" rx="8" ry="5.5" fill="#fff00a"/></g>
<g stroke="#0d0d0d" stroke-width="4.3" fill="none">
<line x1="642.6" y1="232.7" x2="898.5" y2="109.6"/>
<line x1="675" y1="262" x2="944" y2="133.5"/>
<line x1="605.4" y1="433.7" x2="973" y2="303.8"/>
<line x1="731" y1="475.5" x2="846.3" y2="404.5"/>
<line x1="745.3" y1="520.9" x2="1035.7" y2="533.7"/>
<polyline points="822,653 951,723 787,731" stroke-linejoin="miter" stroke-miterlimit="10" stroke="#0a0a0a" stroke-width="4.1"/>
<line x1="695.7" y1="621.8" x2="846" y2="949" stroke="#1c1a18" stroke-width="3.9"/>
<line x1="714.3" y1="754.3" x2="846" y2="949" stroke="#1c1a18" stroke-width="3.9"/>
</g>
<text x="897.3" y="94.8" textLength="310.2" lengthAdjust="spacingAndGlyphs">Outer membrane</text>
<text x="973.7" y="132.2" textLength="302.0" lengthAdjust="spacingAndGlyphs">Inner membrane</text>
<text x="1005.5" y="293.0" textLength="177.6" lengthAdjust="spacingAndGlyphs">Nucleolus</text>
<text x="869.0" y="401.7" textLength="235.4" lengthAdjust="spacingAndGlyphs">Nucleoplasm</text>
<text x="1055.0" y="498.2" textLength="193.5" lengthAdjust="spacingAndGlyphs">Chromatin</text>
<text x="1055.5" y="547.0" textLength="139.5" lengthAdjust="spacingAndGlyphs">Strands</text>
<text x="974.0" y="735.4" textLength="197.0" lengthAdjust="spacingAndGlyphs">Ribosomes</text>
<text x="778.0" y="984.2" textLength="248.0" lengthAdjust="spacingAndGlyphs">Nuclear Pores</text>
</svg>
</body></html>
